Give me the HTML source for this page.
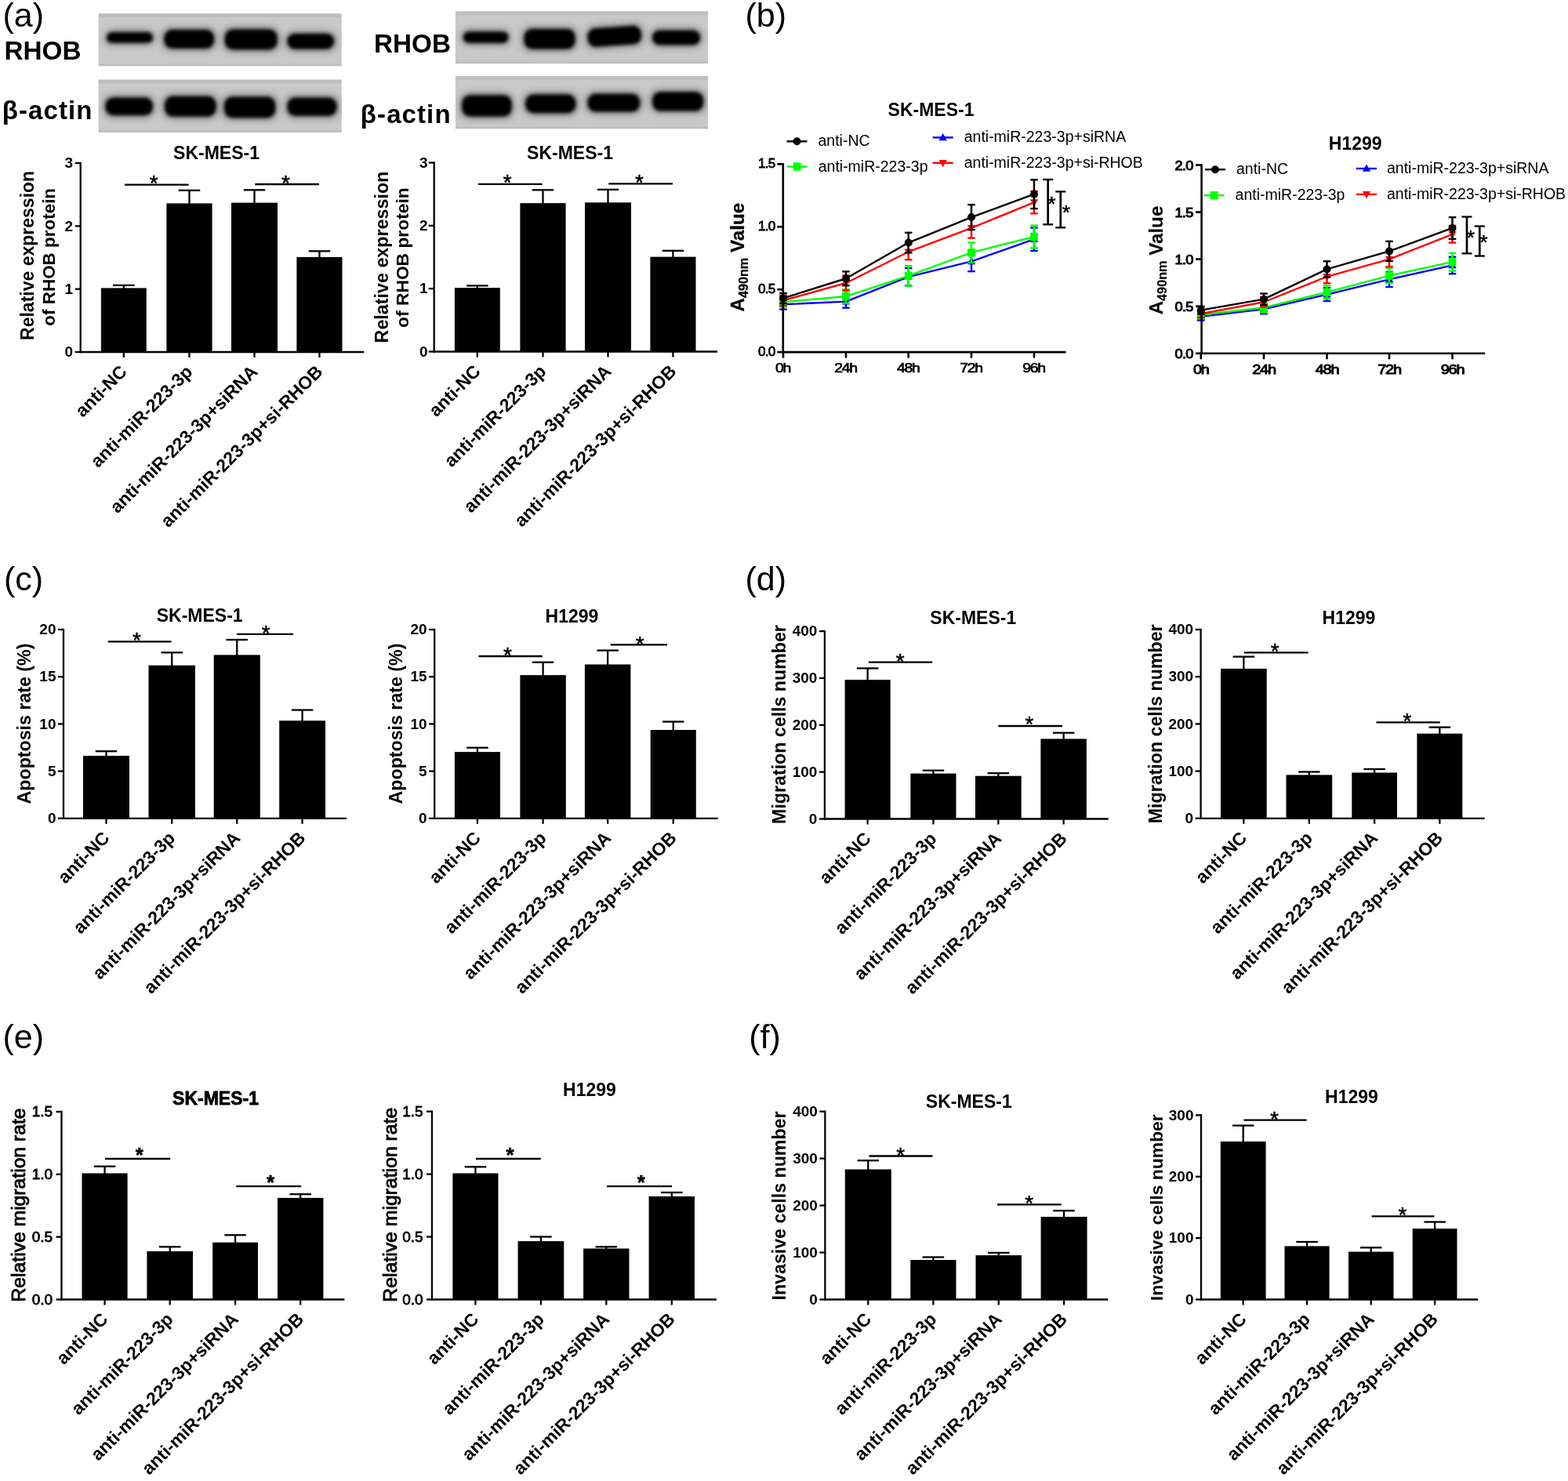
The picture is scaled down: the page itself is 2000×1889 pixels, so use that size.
<!DOCTYPE html>
<html lang="en"><head><meta charset="utf-8"><title>Figure</title>
<style>html,body{margin:0;padding:0;background:#fff}svg{display:block}text{font-family:'Liberation Sans', Arial, Helvetica, sans-serif;fill:#000}</style>
</head><body>
<svg xmlns="http://www.w3.org/2000/svg" width="2000" height="1889" viewBox="0 0 2000 1889">
<rect x="0" y="0" width="2000" height="1889" fill="#fff"/>
<defs><filter id="bl" x="-20%" y="-50%" width="140%" height="200%"><feGaussianBlur stdDeviation="2"/></filter><filter id="bl3" x="-20%" y="-50%" width="140%" height="200%"><feGaussianBlur stdDeviation="5"/></filter><filter id="bl2" x="-5%" y="-5%" width="110%" height="110%"><feGaussianBlur stdDeviation="0.6"/></filter></defs>
<text x="3.5" y="34.1" font-size="43" font-weight="normal" text-anchor="start">(a)</text>
<text x="950.5" y="33.9" font-size="43" font-weight="normal" text-anchor="start">(b)</text>
<text x="5" y="753.2" font-size="43" font-weight="normal" text-anchor="start">(c)</text>
<text x="950.5" y="753.3" font-size="43" font-weight="normal" text-anchor="start">(d)</text>
<text x="3.5" y="1336.6" font-size="43" font-weight="normal" text-anchor="start">(e)</text>
<text x="955.3" y="1336.6" font-size="43" font-weight="normal" text-anchor="start">(f)</text>
<g><rect x="125.6" y="17.2" width="310.2" height="67.2" fill="#c9c9c9" filter="url(#bl2)"/>
<clipPath id="cp125_17"><rect x="125.6" y="17.2" width="310.2" height="67.2"/></clipPath>
<g clip-path="url(#cp125_17)">
<rect x="125.6" y="17.2" width="310.2" height="5" fill="#000" opacity="0.05"/>
<rect x="125.6" y="81.4" width="310.2" height="3" fill="#000" opacity="0.05"/>
<g filter="url(#bl3)" opacity="0.4">
<rect x="133.6" y="38.7" width="63.8" height="18.4" rx="9.2" fill="#000"/>
<rect x="206.9" y="35.5" width="68.6" height="28.8" rx="10.5" fill="#000"/>
<rect x="284.3" y="34.9" width="71.8" height="30.8" rx="10.5" fill="#000"/>
<rect x="364" y="40.5" width="64.7" height="24.4" rx="10.5" fill="#000"/>
</g>
<g filter="url(#bl)" opacity="1">
<rect x="136.1" y="41.2" width="58.8" height="13.4" rx="6.7" fill="#000"/>
<rect x="209.4" y="38" width="63.6" height="23.8" rx="10.5" fill="#000"/>
<rect x="286.8" y="37.4" width="66.8" height="25.8" rx="10.5" fill="#000"/>
<rect x="366.5" y="43" width="59.7" height="19.4" rx="9.7" fill="#000"/>
</g>
</g></g>
<g><rect x="125.6" y="101.5" width="310.2" height="67.5" fill="#c9c9c9" filter="url(#bl2)"/>
<clipPath id="cp125_101"><rect x="125.6" y="101.5" width="310.2" height="67.5"/></clipPath>
<g clip-path="url(#cp125_101)">
<rect x="125.6" y="101.5" width="310.2" height="5" fill="#000" opacity="0.05"/>
<rect x="125.6" y="166" width="310.2" height="3" fill="#000" opacity="0.05"/>
<g filter="url(#bl3)" opacity="0.4">
<rect x="132" y="121.9" width="65.4" height="27.6" rx="10.5" fill="#000"/>
<rect x="207.7" y="120.3" width="70.3" height="30.8" rx="10.5" fill="#000"/>
<rect x="283.5" y="121.1" width="70.2" height="31.6" rx="10.5" fill="#000"/>
<rect x="364" y="121.9" width="67.9" height="28.4" rx="10.5" fill="#000"/>
</g>
<g filter="url(#bl)" opacity="1">
<rect x="134.5" y="124.4" width="60.4" height="22.6" rx="10.5" fill="#000"/>
<rect x="210.2" y="122.8" width="65.3" height="25.8" rx="10.5" fill="#000"/>
<rect x="286" y="123.6" width="65.2" height="26.6" rx="10.5" fill="#000"/>
<rect x="366.5" y="124.4" width="62.9" height="23.4" rx="10.5" fill="#000"/>
</g>
</g></g>
<g><rect x="580.9" y="14.3" width="322.2" height="66.9" fill="#c9c9c9" filter="url(#bl2)"/>
<clipPath id="cp580_14"><rect x="580.9" y="14.3" width="322.2" height="66.9"/></clipPath>
<g clip-path="url(#cp580_14)">
<rect x="580.9" y="14.3" width="322.2" height="5" fill="#000" opacity="0.05"/>
<rect x="580.9" y="78.2" width="322.2" height="3" fill="#000" opacity="0.05"/>
<g filter="url(#bl3)" opacity="0.4">
<rect x="588.5" y="37.9" width="62.4" height="19.4" rx="9.7" fill="#000"/>
<rect x="666.1" y="34.5" width="70" height="30.4" rx="10.5" fill="#000"/>
<rect x="747.1" y="32" width="73.3" height="28.5" rx="10.5" fill="#000" transform="rotate(-4 783.75 46.25)"/>
<rect x="829.7" y="36.2" width="65.8" height="23.6" rx="10.5" fill="#000"/>
</g>
<g filter="url(#bl)" opacity="1">
<rect x="591" y="40.4" width="57.4" height="14.4" rx="7.2" fill="#000"/>
<rect x="668.6" y="37" width="65" height="25.4" rx="10.5" fill="#000"/>
<rect x="749.6" y="34.5" width="68.3" height="23.5" rx="10.5" fill="#000" transform="rotate(-4 783.75 46.25)"/>
<rect x="832.2" y="38.7" width="60.8" height="18.6" rx="9.3" fill="#000"/>
</g>
</g></g>
<g><rect x="580.9" y="96.9" width="322.2" height="67.5" fill="#c9c9c9" filter="url(#bl2)"/>
<clipPath id="cp580_96"><rect x="580.9" y="96.9" width="322.2" height="67.5"/></clipPath>
<g clip-path="url(#cp580_96)">
<rect x="580.9" y="96.9" width="322.2" height="5" fill="#000" opacity="0.05"/>
<rect x="580.9" y="161.4" width="322.2" height="3" fill="#000" opacity="0.05"/>
<g filter="url(#bl3)" opacity="0.4">
<rect x="586.8" y="118.9" width="68.3" height="32" rx="10.5" fill="#000"/>
<rect x="667.8" y="118.1" width="69.1" height="28.6" rx="10.5" fill="#000"/>
<rect x="747.1" y="117.2" width="71.6" height="27.8" rx="10.5" fill="#000"/>
<rect x="829.7" y="114.7" width="70" height="29.4" rx="10.5" fill="#000"/>
</g>
<g filter="url(#bl)" opacity="1">
<rect x="589.3" y="121.4" width="63.3" height="27" rx="10.5" fill="#000"/>
<rect x="670.3" y="120.6" width="64.1" height="23.6" rx="10.5" fill="#000"/>
<rect x="749.6" y="119.7" width="66.6" height="22.8" rx="10.5" fill="#000"/>
<rect x="832.2" y="117.2" width="65" height="24.4" rx="10.5" fill="#000"/>
</g>
</g></g>
<text x="5.5" y="76.1" font-size="33.3" font-weight="bold" text-anchor="start">RHOB</text>
<text x="2.7" y="151.5" font-size="33" font-weight="bold" text-anchor="start" letter-spacing="1.1">β-actin</text>
<text x="476.9" y="66.8" font-size="33.3" font-weight="bold" text-anchor="start">RHOB</text>
<text x="459.8" y="156.9" font-size="33" font-weight="bold" text-anchor="start" letter-spacing="1.1">β-actin</text>
<g>
<line x1="157.85" y1="363.9" x2="157.85" y2="368.4" stroke="#000" stroke-width="2.3" stroke-linecap="butt"/>
<line x1="144.1" y1="363.9" x2="171.6" y2="363.9" stroke="#000" stroke-width="2.3" stroke-linecap="butt"/>
<rect x="128.9" y="367.4" width="57.9" height="81.6" fill="#000"/>
<line x1="241.5" y1="242.8" x2="241.5" y2="260.4" stroke="#000" stroke-width="2.3" stroke-linecap="butt"/>
<line x1="227.75" y1="242.8" x2="255.25" y2="242.8" stroke="#000" stroke-width="2.3" stroke-linecap="butt"/>
<rect x="212.4" y="259.4" width="58.2" height="189.6" fill="#000"/>
<line x1="324.5" y1="242.3" x2="324.5" y2="259.6" stroke="#000" stroke-width="2.3" stroke-linecap="butt"/>
<line x1="310.75" y1="242.3" x2="338.25" y2="242.3" stroke="#000" stroke-width="2.3" stroke-linecap="butt"/>
<rect x="295" y="258.6" width="59" height="190.4" fill="#000"/>
<line x1="407.45" y1="320.3" x2="407.45" y2="328.9" stroke="#000" stroke-width="2.3" stroke-linecap="butt"/>
<line x1="393.7" y1="320.3" x2="421.2" y2="320.3" stroke="#000" stroke-width="2.3" stroke-linecap="butt"/>
<rect x="378.4" y="327.9" width="58.1" height="121.1" fill="#000"/>
<line x1="102.7" y1="206.85" x2="102.7" y2="450.15" stroke="#000" stroke-width="2.3" stroke-linecap="butt"/>
<line x1="101.55" y1="449" x2="464" y2="449" stroke="#000" stroke-width="2.3" stroke-linecap="butt"/>
<line x1="95.7" y1="449" x2="102.7" y2="449" stroke="#000" stroke-width="2.3" stroke-linecap="butt"/>
<text x="93.2" y="455.2" font-size="19" font-weight="bold" text-anchor="end">0</text>
<line x1="95.7" y1="368.67" x2="102.7" y2="368.67" stroke="#000" stroke-width="2.3" stroke-linecap="butt"/>
<text x="93.2" y="374.87" font-size="19" font-weight="bold" text-anchor="end">1</text>
<line x1="95.7" y1="288.33" x2="102.7" y2="288.33" stroke="#000" stroke-width="2.3" stroke-linecap="butt"/>
<text x="93.2" y="294.53" font-size="19" font-weight="bold" text-anchor="end">2</text>
<line x1="95.7" y1="208" x2="102.7" y2="208" stroke="#000" stroke-width="2.3" stroke-linecap="butt"/>
<text x="93.2" y="214.2" font-size="19" font-weight="bold" text-anchor="end">3</text>
<line x1="157.85" y1="449" x2="157.85" y2="456" stroke="#000" stroke-width="2.3" stroke-linecap="butt"/>
<text x="163.35" y="475.5" font-size="23" font-weight="bold" text-anchor="end" transform="rotate(-45 163.35 475.5)">anti-NC</text>
<line x1="241.5" y1="449" x2="241.5" y2="456" stroke="#000" stroke-width="2.3" stroke-linecap="butt"/>
<text x="247" y="475.5" font-size="23" font-weight="bold" text-anchor="end" transform="rotate(-45 247 475.5)">anti-miR-223-3p</text>
<line x1="324.5" y1="449" x2="324.5" y2="456" stroke="#000" stroke-width="2.3" stroke-linecap="butt"/>
<text x="330" y="475.5" font-size="23" font-weight="bold" text-anchor="end" transform="rotate(-45 330 475.5)">anti-miR-223-3p+siRNA</text>
<line x1="407.45" y1="449" x2="407.45" y2="456" stroke="#000" stroke-width="2.3" stroke-linecap="butt"/>
<text x="412.95" y="475.5" font-size="23" font-weight="bold" text-anchor="end" transform="rotate(-45 412.95 475.5)">anti-miR-223-3p+si-RHOB</text>
<line x1="159" y1="235.6" x2="240.7" y2="235.6" stroke="#000" stroke-width="2.3" stroke-linecap="butt"/>
<text x="196.25" y="243.1" font-size="28" font-weight="normal" text-anchor="middle" stroke="#000" stroke-width="0.5">*</text>
<line x1="325.3" y1="235" x2="407" y2="235" stroke="#000" stroke-width="2.3" stroke-linecap="butt"/>
<text x="364.45" y="242.5" font-size="28" font-weight="normal" text-anchor="middle" stroke="#000" stroke-width="0.5">*</text>
<text x="276" y="203" font-size="23" font-weight="bold" text-anchor="middle">SK-MES-1</text>
<text x="43.5" y="325.9" font-size="23" font-weight="bold" text-anchor="middle" transform="rotate(-90 43.5 325.9)">Relative expression</text>
<text x="70.4" y="327.8" font-size="22.45" font-weight="bold" text-anchor="middle" transform="rotate(-90 70.4 327.8)">of RHOB protein</text>
</g>
<g>
<line x1="608.85" y1="364.4" x2="608.85" y2="368.1" stroke="#000" stroke-width="2.3" stroke-linecap="butt"/>
<line x1="595.1" y1="364.4" x2="622.6" y2="364.4" stroke="#000" stroke-width="2.3" stroke-linecap="butt"/>
<rect x="579.9" y="367.1" width="57.9" height="81.4" fill="#000"/>
<line x1="692.5" y1="242.3" x2="692.5" y2="260.1" stroke="#000" stroke-width="2.3" stroke-linecap="butt"/>
<line x1="678.75" y1="242.3" x2="706.25" y2="242.3" stroke="#000" stroke-width="2.3" stroke-linecap="butt"/>
<rect x="663.4" y="259.1" width="58.2" height="189.4" fill="#000"/>
<line x1="775.5" y1="241.8" x2="775.5" y2="259.3" stroke="#000" stroke-width="2.3" stroke-linecap="butt"/>
<line x1="761.75" y1="241.8" x2="789.25" y2="241.8" stroke="#000" stroke-width="2.3" stroke-linecap="butt"/>
<rect x="746" y="258.3" width="59" height="190.2" fill="#000"/>
<line x1="858.45" y1="319.8" x2="858.45" y2="328.6" stroke="#000" stroke-width="2.3" stroke-linecap="butt"/>
<line x1="844.7" y1="319.8" x2="872.2" y2="319.8" stroke="#000" stroke-width="2.3" stroke-linecap="butt"/>
<rect x="829.4" y="327.6" width="58.1" height="120.9" fill="#000"/>
<line x1="553.7" y1="206.35" x2="553.7" y2="449.65" stroke="#000" stroke-width="2.3" stroke-linecap="butt"/>
<line x1="552.55" y1="448.5" x2="915" y2="448.5" stroke="#000" stroke-width="2.3" stroke-linecap="butt"/>
<line x1="546.7" y1="448.5" x2="553.7" y2="448.5" stroke="#000" stroke-width="2.3" stroke-linecap="butt"/>
<text x="545.5" y="454.7" font-size="19" font-weight="bold" text-anchor="end">0</text>
<line x1="546.7" y1="368.17" x2="553.7" y2="368.17" stroke="#000" stroke-width="2.3" stroke-linecap="butt"/>
<text x="545.5" y="374.37" font-size="19" font-weight="bold" text-anchor="end">1</text>
<line x1="546.7" y1="287.83" x2="553.7" y2="287.83" stroke="#000" stroke-width="2.3" stroke-linecap="butt"/>
<text x="545.5" y="294.03" font-size="19" font-weight="bold" text-anchor="end">2</text>
<line x1="546.7" y1="207.5" x2="553.7" y2="207.5" stroke="#000" stroke-width="2.3" stroke-linecap="butt"/>
<text x="545.5" y="213.7" font-size="19" font-weight="bold" text-anchor="end">3</text>
<line x1="608.85" y1="448.5" x2="608.85" y2="455.5" stroke="#000" stroke-width="2.3" stroke-linecap="butt"/>
<text x="614.35" y="475" font-size="23" font-weight="bold" text-anchor="end" transform="rotate(-45 614.35 475)">anti-NC</text>
<line x1="692.5" y1="448.5" x2="692.5" y2="455.5" stroke="#000" stroke-width="2.3" stroke-linecap="butt"/>
<text x="698" y="475" font-size="23" font-weight="bold" text-anchor="end" transform="rotate(-45 698 475)">anti-miR-223-3p</text>
<line x1="775.5" y1="448.5" x2="775.5" y2="455.5" stroke="#000" stroke-width="2.3" stroke-linecap="butt"/>
<text x="781" y="475" font-size="23" font-weight="bold" text-anchor="end" transform="rotate(-45 781 475)">anti-miR-223-3p+siRNA</text>
<line x1="858.45" y1="448.5" x2="858.45" y2="455.5" stroke="#000" stroke-width="2.3" stroke-linecap="butt"/>
<text x="863.95" y="475" font-size="23" font-weight="bold" text-anchor="end" transform="rotate(-45 863.95 475)">anti-miR-223-3p+si-RHOB</text>
<line x1="610" y1="234.9" x2="691.7" y2="234.9" stroke="#000" stroke-width="2.3" stroke-linecap="butt"/>
<text x="647.25" y="242.4" font-size="28" font-weight="normal" text-anchor="middle" stroke="#000" stroke-width="0.5">*</text>
<line x1="776.3" y1="234.3" x2="858" y2="234.3" stroke="#000" stroke-width="2.3" stroke-linecap="butt"/>
<text x="815.45" y="241.8" font-size="28" font-weight="normal" text-anchor="middle" stroke="#000" stroke-width="0.5">*</text>
<text x="727" y="202.5" font-size="23" font-weight="bold" text-anchor="middle">SK-MES-1</text>
<text x="495" y="328" font-size="23.3" font-weight="bold" text-anchor="middle" transform="rotate(-90 495 328)">Relative expression</text>
<text x="521.2" y="328.6" font-size="22.8" font-weight="bold" text-anchor="middle" transform="rotate(-90 521.2 328.6)">of RHOB protein</text>
</g>
<g>
<line x1="135.5" y1="958.2" x2="135.5" y2="965" stroke="#000" stroke-width="2.3" stroke-linecap="butt"/>
<line x1="121.75" y1="958.2" x2="149.25" y2="958.2" stroke="#000" stroke-width="2.3" stroke-linecap="butt"/>
<rect x="106" y="964" width="59" height="79.8" fill="#000"/>
<line x1="219.25" y1="832.3" x2="219.25" y2="849.7" stroke="#000" stroke-width="2.3" stroke-linecap="butt"/>
<line x1="205.5" y1="832.3" x2="233" y2="832.3" stroke="#000" stroke-width="2.3" stroke-linecap="butt"/>
<rect x="189.5" y="848.7" width="59.5" height="195.1" fill="#000"/>
<line x1="302.25" y1="816" x2="302.25" y2="836.4" stroke="#000" stroke-width="2.3" stroke-linecap="butt"/>
<line x1="288.5" y1="816" x2="316" y2="816" stroke="#000" stroke-width="2.3" stroke-linecap="butt"/>
<rect x="272.7" y="835.4" width="59.1" height="208.4" fill="#000"/>
<line x1="385.6" y1="905.6" x2="385.6" y2="920.2" stroke="#000" stroke-width="2.3" stroke-linecap="butt"/>
<line x1="371.85" y1="905.6" x2="399.35" y2="905.6" stroke="#000" stroke-width="2.3" stroke-linecap="butt"/>
<rect x="356.2" y="919.2" width="58.8" height="124.6" fill="#000"/>
<line x1="81" y1="801.85" x2="81" y2="1044.95" stroke="#000" stroke-width="2.3" stroke-linecap="butt"/>
<line x1="79.85" y1="1043.8" x2="442" y2="1043.8" stroke="#000" stroke-width="2.3" stroke-linecap="butt"/>
<line x1="74" y1="1043.8" x2="81" y2="1043.8" stroke="#000" stroke-width="2.3" stroke-linecap="butt"/>
<text x="71.5" y="1050" font-size="19" font-weight="bold" text-anchor="end">0</text>
<line x1="74" y1="983.6" x2="81" y2="983.6" stroke="#000" stroke-width="2.3" stroke-linecap="butt"/>
<text x="71.5" y="989.8" font-size="19" font-weight="bold" text-anchor="end">5</text>
<line x1="74" y1="923.4" x2="81" y2="923.4" stroke="#000" stroke-width="2.3" stroke-linecap="butt"/>
<text x="71.5" y="929.6" font-size="19" font-weight="bold" text-anchor="end">10</text>
<line x1="74" y1="863.2" x2="81" y2="863.2" stroke="#000" stroke-width="2.3" stroke-linecap="butt"/>
<text x="71.5" y="869.4" font-size="19" font-weight="bold" text-anchor="end">15</text>
<line x1="74" y1="803" x2="81" y2="803" stroke="#000" stroke-width="2.3" stroke-linecap="butt"/>
<text x="71.5" y="809.2" font-size="19" font-weight="bold" text-anchor="end">20</text>
<line x1="135.5" y1="1043.8" x2="135.5" y2="1050.8" stroke="#000" stroke-width="2.3" stroke-linecap="butt"/>
<text x="141" y="1070.3" font-size="23" font-weight="bold" text-anchor="end" transform="rotate(-45 141 1070.3)">anti-NC</text>
<line x1="219.25" y1="1043.8" x2="219.25" y2="1050.8" stroke="#000" stroke-width="2.3" stroke-linecap="butt"/>
<text x="224.75" y="1070.3" font-size="23" font-weight="bold" text-anchor="end" transform="rotate(-45 224.75 1070.3)">anti-miR-223-3p</text>
<line x1="302.25" y1="1043.8" x2="302.25" y2="1050.8" stroke="#000" stroke-width="2.3" stroke-linecap="butt"/>
<text x="307.75" y="1070.3" font-size="23" font-weight="bold" text-anchor="end" transform="rotate(-45 307.75 1070.3)">anti-miR-223-3p+siRNA</text>
<line x1="385.6" y1="1043.8" x2="385.6" y2="1050.8" stroke="#000" stroke-width="2.3" stroke-linecap="butt"/>
<text x="391.1" y="1070.3" font-size="23" font-weight="bold" text-anchor="end" transform="rotate(-45 391.1 1070.3)">anti-miR-223-3p+si-RHOB</text>
<line x1="137.6" y1="818.4" x2="218.6" y2="818.4" stroke="#000" stroke-width="2.3" stroke-linecap="butt"/>
<text x="174.5" y="825.9" font-size="28" font-weight="normal" text-anchor="middle" stroke="#000" stroke-width="0.5">*</text>
<line x1="302" y1="808.8" x2="374" y2="808.8" stroke="#000" stroke-width="2.3" stroke-linecap="butt"/>
<text x="339.3" y="817.3" font-size="28" font-weight="normal" text-anchor="middle" stroke="#000" stroke-width="0.5">*</text>
<text x="254.7" y="793" font-size="23" font-weight="bold" text-anchor="middle">SK-MES-1</text>
<text x="39" y="923" font-size="23.2" font-weight="bold" text-anchor="middle" transform="rotate(-90 39 923)">Apoptosis rate (%)</text>
</g>
<g>
<line x1="608.95" y1="953.7" x2="608.95" y2="960.1" stroke="#000" stroke-width="2.3" stroke-linecap="butt"/>
<line x1="595.2" y1="953.7" x2="622.7" y2="953.7" stroke="#000" stroke-width="2.3" stroke-linecap="butt"/>
<rect x="579.9" y="959.1" width="58.1" height="84.7" fill="#000"/>
<line x1="692.6" y1="844.7" x2="692.6" y2="862.1" stroke="#000" stroke-width="2.3" stroke-linecap="butt"/>
<line x1="678.85" y1="844.7" x2="706.35" y2="844.7" stroke="#000" stroke-width="2.3" stroke-linecap="butt"/>
<rect x="663.4" y="861.1" width="58.4" height="182.7" fill="#000"/>
<line x1="775.15" y1="829.6" x2="775.15" y2="848.5" stroke="#000" stroke-width="2.3" stroke-linecap="butt"/>
<line x1="761.4" y1="829.6" x2="788.9" y2="829.6" stroke="#000" stroke-width="2.3" stroke-linecap="butt"/>
<rect x="745.9" y="847.5" width="58.5" height="196.3" fill="#000"/>
<line x1="858.75" y1="920.5" x2="858.75" y2="932" stroke="#000" stroke-width="2.3" stroke-linecap="butt"/>
<line x1="845" y1="920.5" x2="872.5" y2="920.5" stroke="#000" stroke-width="2.3" stroke-linecap="butt"/>
<rect x="829.7" y="931" width="58.1" height="112.8" fill="#000"/>
<line x1="554.2" y1="801.85" x2="554.2" y2="1044.95" stroke="#000" stroke-width="2.3" stroke-linecap="butt"/>
<line x1="553.05" y1="1043.8" x2="915.7" y2="1043.8" stroke="#000" stroke-width="2.3" stroke-linecap="butt"/>
<line x1="547.2" y1="1043.8" x2="554.2" y2="1043.8" stroke="#000" stroke-width="2.3" stroke-linecap="butt"/>
<text x="544.7" y="1050" font-size="19" font-weight="bold" text-anchor="end">0</text>
<line x1="547.2" y1="983.6" x2="554.2" y2="983.6" stroke="#000" stroke-width="2.3" stroke-linecap="butt"/>
<text x="544.7" y="989.8" font-size="19" font-weight="bold" text-anchor="end">5</text>
<line x1="547.2" y1="923.4" x2="554.2" y2="923.4" stroke="#000" stroke-width="2.3" stroke-linecap="butt"/>
<text x="544.7" y="929.6" font-size="19" font-weight="bold" text-anchor="end">10</text>
<line x1="547.2" y1="863.2" x2="554.2" y2="863.2" stroke="#000" stroke-width="2.3" stroke-linecap="butt"/>
<text x="544.7" y="869.4" font-size="19" font-weight="bold" text-anchor="end">15</text>
<line x1="547.2" y1="803" x2="554.2" y2="803" stroke="#000" stroke-width="2.3" stroke-linecap="butt"/>
<text x="544.7" y="809.2" font-size="19" font-weight="bold" text-anchor="end">20</text>
<line x1="608.95" y1="1043.8" x2="608.95" y2="1050.8" stroke="#000" stroke-width="2.3" stroke-linecap="butt"/>
<text x="614.45" y="1070.3" font-size="23" font-weight="bold" text-anchor="end" transform="rotate(-45 614.45 1070.3)">anti-NC</text>
<line x1="692.6" y1="1043.8" x2="692.6" y2="1050.8" stroke="#000" stroke-width="2.3" stroke-linecap="butt"/>
<text x="698.1" y="1070.3" font-size="23" font-weight="bold" text-anchor="end" transform="rotate(-45 698.1 1070.3)">anti-miR-223-3p</text>
<line x1="775.15" y1="1043.8" x2="775.15" y2="1050.8" stroke="#000" stroke-width="2.3" stroke-linecap="butt"/>
<text x="780.65" y="1070.3" font-size="23" font-weight="bold" text-anchor="end" transform="rotate(-45 780.65 1070.3)">anti-miR-223-3p+siRNA</text>
<line x1="858.75" y1="1043.8" x2="858.75" y2="1050.8" stroke="#000" stroke-width="2.3" stroke-linecap="butt"/>
<text x="864.25" y="1070.3" font-size="23" font-weight="bold" text-anchor="end" transform="rotate(-45 864.25 1070.3)">anti-miR-223-3p+si-RHOB</text>
<line x1="610.5" y1="837" x2="691.8" y2="837" stroke="#000" stroke-width="2.3" stroke-linecap="butt"/>
<text x="647.55" y="844.5" font-size="28" font-weight="normal" text-anchor="middle" stroke="#000" stroke-width="0.5">*</text>
<line x1="778.7" y1="822.4" x2="851" y2="822.4" stroke="#000" stroke-width="2.3" stroke-linecap="butt"/>
<text x="816.15" y="830.9" font-size="28" font-weight="normal" text-anchor="middle" stroke="#000" stroke-width="0.5">*</text>
<text x="729.5" y="794.3" font-size="23" font-weight="bold" text-anchor="middle">H1299</text>
<text x="513.2" y="923" font-size="23.2" font-weight="bold" text-anchor="middle" transform="rotate(-90 513.2 923)">Apoptosis rate (%)</text>
</g>
<g>
<line x1="1106.65" y1="852.4" x2="1106.65" y2="868" stroke="#000" stroke-width="2.3" stroke-linecap="butt"/>
<line x1="1092.9" y1="852.4" x2="1120.4" y2="852.4" stroke="#000" stroke-width="2.3" stroke-linecap="butt"/>
<rect x="1077.6" y="867" width="58.1" height="177.5" fill="#000"/>
<line x1="1190.45" y1="982.7" x2="1190.45" y2="987.6" stroke="#000" stroke-width="2.3" stroke-linecap="butt"/>
<line x1="1176.7" y1="982.7" x2="1204.2" y2="982.7" stroke="#000" stroke-width="2.3" stroke-linecap="butt"/>
<rect x="1161.4" y="986.6" width="58.1" height="57.9" fill="#000"/>
<line x1="1273.35" y1="986.2" x2="1273.35" y2="990.7" stroke="#000" stroke-width="2.3" stroke-linecap="butt"/>
<line x1="1259.6" y1="986.2" x2="1287.1" y2="986.2" stroke="#000" stroke-width="2.3" stroke-linecap="butt"/>
<rect x="1244" y="989.7" width="58.7" height="54.8" fill="#000"/>
<line x1="1356.65" y1="934.7" x2="1356.65" y2="943.4" stroke="#000" stroke-width="2.3" stroke-linecap="butt"/>
<line x1="1342.9" y1="934.7" x2="1370.4" y2="934.7" stroke="#000" stroke-width="2.3" stroke-linecap="butt"/>
<rect x="1327.4" y="942.4" width="58.5" height="102.1" fill="#000"/>
<line x1="1051.9" y1="803.95" x2="1051.9" y2="1045.65" stroke="#000" stroke-width="2.3" stroke-linecap="butt"/>
<line x1="1050.75" y1="1044.5" x2="1413.7" y2="1044.5" stroke="#000" stroke-width="2.3" stroke-linecap="butt"/>
<line x1="1044.9" y1="1044.5" x2="1051.9" y2="1044.5" stroke="#000" stroke-width="2.3" stroke-linecap="butt"/>
<text x="1042.4" y="1050.7" font-size="19" font-weight="bold" text-anchor="end">0</text>
<line x1="1044.9" y1="984.65" x2="1051.9" y2="984.65" stroke="#000" stroke-width="2.3" stroke-linecap="butt"/>
<text x="1042.4" y="990.85" font-size="19" font-weight="bold" text-anchor="end">100</text>
<line x1="1044.9" y1="924.8" x2="1051.9" y2="924.8" stroke="#000" stroke-width="2.3" stroke-linecap="butt"/>
<text x="1042.4" y="931" font-size="19" font-weight="bold" text-anchor="end">200</text>
<line x1="1044.9" y1="864.95" x2="1051.9" y2="864.95" stroke="#000" stroke-width="2.3" stroke-linecap="butt"/>
<text x="1042.4" y="871.15" font-size="19" font-weight="bold" text-anchor="end">300</text>
<line x1="1044.9" y1="805.1" x2="1051.9" y2="805.1" stroke="#000" stroke-width="2.3" stroke-linecap="butt"/>
<text x="1042.4" y="811.3" font-size="19" font-weight="bold" text-anchor="end">400</text>
<line x1="1106.65" y1="1044.5" x2="1106.65" y2="1051.5" stroke="#000" stroke-width="2.3" stroke-linecap="butt"/>
<text x="1112.15" y="1071" font-size="23" font-weight="bold" text-anchor="end" transform="rotate(-45 1112.15 1071)">anti-NC</text>
<line x1="1190.45" y1="1044.5" x2="1190.45" y2="1051.5" stroke="#000" stroke-width="2.3" stroke-linecap="butt"/>
<text x="1195.95" y="1071" font-size="23" font-weight="bold" text-anchor="end" transform="rotate(-45 1195.95 1071)">anti-miR-223-3p</text>
<line x1="1273.35" y1="1044.5" x2="1273.35" y2="1051.5" stroke="#000" stroke-width="2.3" stroke-linecap="butt"/>
<text x="1278.85" y="1071" font-size="23" font-weight="bold" text-anchor="end" transform="rotate(-45 1278.85 1071)">anti-miR-223-3p+siRNA</text>
<line x1="1356.65" y1="1044.5" x2="1356.65" y2="1051.5" stroke="#000" stroke-width="2.3" stroke-linecap="butt"/>
<text x="1362.15" y="1071" font-size="23" font-weight="bold" text-anchor="end" transform="rotate(-45 1362.15 1071)">anti-miR-223-3p+si-RHOB</text>
<line x1="1107.9" y1="844.7" x2="1189.2" y2="844.7" stroke="#000" stroke-width="2.3" stroke-linecap="butt"/>
<text x="1148.15" y="853.4" font-size="28" font-weight="normal" text-anchor="middle" stroke="#000" stroke-width="0.5">*</text>
<line x1="1273.3" y1="926" x2="1355" y2="926" stroke="#000" stroke-width="2.3" stroke-linecap="butt"/>
<text x="1313.05" y="932.8" font-size="28" font-weight="normal" text-anchor="middle" stroke="#000" stroke-width="0.5">*</text>
<text x="1241.3" y="795.8" font-size="23" font-weight="bold" text-anchor="middle">SK-MES-1</text>
<text x="1001.5" y="924" font-size="23.2" font-weight="bold" text-anchor="middle" transform="rotate(-90 1001.5 924)">Migration cells number</text>
</g>
<g>
<line x1="1586.35" y1="837.6" x2="1586.35" y2="853.9" stroke="#000" stroke-width="2.3" stroke-linecap="butt"/>
<line x1="1572.6" y1="837.6" x2="1600.1" y2="837.6" stroke="#000" stroke-width="2.3" stroke-linecap="butt"/>
<rect x="1557" y="852.9" width="58.7" height="190.9" fill="#000"/>
<line x1="1669.85" y1="984.5" x2="1669.85" y2="989.4" stroke="#000" stroke-width="2.3" stroke-linecap="butt"/>
<line x1="1656.1" y1="984.5" x2="1683.6" y2="984.5" stroke="#000" stroke-width="2.3" stroke-linecap="butt"/>
<rect x="1640.5" y="988.4" width="58.7" height="55.4" fill="#000"/>
<line x1="1753.15" y1="981" x2="1753.15" y2="986.5" stroke="#000" stroke-width="2.3" stroke-linecap="butt"/>
<line x1="1739.4" y1="981" x2="1766.9" y2="981" stroke="#000" stroke-width="2.3" stroke-linecap="butt"/>
<rect x="1724.3" y="985.5" width="57.7" height="58.3" fill="#000"/>
<line x1="1836.35" y1="927.6" x2="1836.35" y2="936.7" stroke="#000" stroke-width="2.3" stroke-linecap="butt"/>
<line x1="1822.6" y1="927.6" x2="1850.1" y2="927.6" stroke="#000" stroke-width="2.3" stroke-linecap="butt"/>
<rect x="1807.4" y="935.7" width="57.9" height="108.1" fill="#000"/>
<line x1="1531.6" y1="801.85" x2="1531.6" y2="1044.95" stroke="#000" stroke-width="2.3" stroke-linecap="butt"/>
<line x1="1530.45" y1="1043.8" x2="1893.7" y2="1043.8" stroke="#000" stroke-width="2.3" stroke-linecap="butt"/>
<line x1="1524.6" y1="1043.8" x2="1531.6" y2="1043.8" stroke="#000" stroke-width="2.3" stroke-linecap="butt"/>
<text x="1522.1" y="1050" font-size="19" font-weight="bold" text-anchor="end">0</text>
<line x1="1524.6" y1="983.6" x2="1531.6" y2="983.6" stroke="#000" stroke-width="2.3" stroke-linecap="butt"/>
<text x="1522.1" y="989.8" font-size="19" font-weight="bold" text-anchor="end">100</text>
<line x1="1524.6" y1="923.4" x2="1531.6" y2="923.4" stroke="#000" stroke-width="2.3" stroke-linecap="butt"/>
<text x="1522.1" y="929.6" font-size="19" font-weight="bold" text-anchor="end">200</text>
<line x1="1524.6" y1="863.2" x2="1531.6" y2="863.2" stroke="#000" stroke-width="2.3" stroke-linecap="butt"/>
<text x="1522.1" y="869.4" font-size="19" font-weight="bold" text-anchor="end">300</text>
<line x1="1524.6" y1="803" x2="1531.6" y2="803" stroke="#000" stroke-width="2.3" stroke-linecap="butt"/>
<text x="1522.1" y="809.2" font-size="19" font-weight="bold" text-anchor="end">400</text>
<line x1="1586.35" y1="1043.8" x2="1586.35" y2="1050.8" stroke="#000" stroke-width="2.3" stroke-linecap="butt"/>
<text x="1591.85" y="1070.3" font-size="23" font-weight="bold" text-anchor="end" transform="rotate(-45 1591.85 1070.3)">anti-NC</text>
<line x1="1669.85" y1="1043.8" x2="1669.85" y2="1050.8" stroke="#000" stroke-width="2.3" stroke-linecap="butt"/>
<text x="1675.35" y="1070.3" font-size="23" font-weight="bold" text-anchor="end" transform="rotate(-45 1675.35 1070.3)">anti-miR-223-3p</text>
<line x1="1753.15" y1="1043.8" x2="1753.15" y2="1050.8" stroke="#000" stroke-width="2.3" stroke-linecap="butt"/>
<text x="1758.65" y="1070.3" font-size="23" font-weight="bold" text-anchor="end" transform="rotate(-45 1758.65 1070.3)">anti-miR-223-3p+siRNA</text>
<line x1="1836.35" y1="1043.8" x2="1836.35" y2="1050.8" stroke="#000" stroke-width="2.3" stroke-linecap="butt"/>
<text x="1841.85" y="1070.3" font-size="23" font-weight="bold" text-anchor="end" transform="rotate(-45 1841.85 1070.3)">anti-miR-223-3p+si-RHOB</text>
<line x1="1587" y1="832.3" x2="1668.6" y2="832.3" stroke="#000" stroke-width="2.3" stroke-linecap="butt"/>
<text x="1626.2" y="839.8" font-size="28" font-weight="normal" text-anchor="middle" stroke="#000" stroke-width="0.5">*</text>
<line x1="1755.5" y1="921.4" x2="1836.8" y2="921.4" stroke="#000" stroke-width="2.3" stroke-linecap="butt"/>
<text x="1795.05" y="928.9" font-size="28" font-weight="normal" text-anchor="middle" stroke="#000" stroke-width="0.5">*</text>
<text x="1720.5" y="795.8" font-size="23" font-weight="bold" text-anchor="middle">H1299</text>
<text x="1481.6" y="923.3" font-size="23.2" font-weight="bold" text-anchor="middle" transform="rotate(-90 1481.6 923.3)">Migration cells number</text>
</g>
<g>
<line x1="133.55" y1="1487.7" x2="133.55" y2="1497.5" stroke="#000" stroke-width="2.3" stroke-linecap="butt"/>
<line x1="119.8" y1="1487.7" x2="147.3" y2="1487.7" stroke="#000" stroke-width="2.3" stroke-linecap="butt"/>
<rect x="104.5" y="1496.5" width="58.1" height="161" fill="#000"/>
<line x1="216.7" y1="1590.3" x2="216.7" y2="1597" stroke="#000" stroke-width="2.3" stroke-linecap="butt"/>
<line x1="202.95" y1="1590.3" x2="230.45" y2="1590.3" stroke="#000" stroke-width="2.3" stroke-linecap="butt"/>
<rect x="187.4" y="1596" width="58.6" height="61.5" fill="#000"/>
<line x1="300.1" y1="1575.3" x2="300.1" y2="1585.7" stroke="#000" stroke-width="2.3" stroke-linecap="butt"/>
<line x1="286.35" y1="1575.3" x2="313.85" y2="1575.3" stroke="#000" stroke-width="2.3" stroke-linecap="butt"/>
<rect x="271.2" y="1584.7" width="57.8" height="72.8" fill="#000"/>
<line x1="383.2" y1="1523.2" x2="383.2" y2="1528.9" stroke="#000" stroke-width="2.3" stroke-linecap="butt"/>
<line x1="369.45" y1="1523.2" x2="396.95" y2="1523.2" stroke="#000" stroke-width="2.3" stroke-linecap="butt"/>
<rect x="354" y="1527.9" width="58.4" height="129.6" fill="#000"/>
<line x1="78.5" y1="1416.85" x2="78.5" y2="1658.65" stroke="#000" stroke-width="2.3" stroke-linecap="butt"/>
<line x1="77.35" y1="1657.5" x2="439.4" y2="1657.5" stroke="#000" stroke-width="2.3" stroke-linecap="butt"/>
<line x1="71.5" y1="1657.5" x2="78.5" y2="1657.5" stroke="#000" stroke-width="2.3" stroke-linecap="butt"/>
<text x="67.1" y="1663.7" font-size="19" font-weight="normal" text-anchor="end" stroke="#000" stroke-width="0.8">0.0</text>
<line x1="71.5" y1="1577.67" x2="78.5" y2="1577.67" stroke="#000" stroke-width="2.3" stroke-linecap="butt"/>
<text x="67.1" y="1583.87" font-size="19" font-weight="normal" text-anchor="end" stroke="#000" stroke-width="0.8">0.5</text>
<line x1="71.5" y1="1497.83" x2="78.5" y2="1497.83" stroke="#000" stroke-width="2.3" stroke-linecap="butt"/>
<text x="67.1" y="1504.03" font-size="19" font-weight="normal" text-anchor="end" stroke="#000" stroke-width="0.8">1.0</text>
<line x1="71.5" y1="1418" x2="78.5" y2="1418" stroke="#000" stroke-width="2.3" stroke-linecap="butt"/>
<text x="67.1" y="1424.2" font-size="19" font-weight="normal" text-anchor="end" stroke="#000" stroke-width="0.8">1.5</text>
<line x1="133.55" y1="1657.5" x2="133.55" y2="1664.5" stroke="#000" stroke-width="2.3" stroke-linecap="butt"/>
<text x="139.05" y="1684" font-size="23" font-weight="bold" text-anchor="end" transform="rotate(-45 139.05 1684)">anti-NC</text>
<line x1="216.7" y1="1657.5" x2="216.7" y2="1664.5" stroke="#000" stroke-width="2.3" stroke-linecap="butt"/>
<text x="222.2" y="1684" font-size="23" font-weight="bold" text-anchor="end" transform="rotate(-45 222.2 1684)">anti-miR-223-3p</text>
<line x1="300.1" y1="1657.5" x2="300.1" y2="1664.5" stroke="#000" stroke-width="2.3" stroke-linecap="butt"/>
<text x="305.6" y="1684" font-size="23" font-weight="bold" text-anchor="end" transform="rotate(-45 305.6 1684)">anti-miR-223-3p+siRNA</text>
<line x1="383.2" y1="1657.5" x2="383.2" y2="1664.5" stroke="#000" stroke-width="2.3" stroke-linecap="butt"/>
<text x="388.7" y="1684" font-size="23" font-weight="bold" text-anchor="end" transform="rotate(-45 388.7 1684)">anti-miR-223-3p+si-RHOB</text>
<line x1="134" y1="1478" x2="217.2" y2="1478" stroke="#000" stroke-width="2.3" stroke-linecap="butt"/>
<text x="177.8" y="1481.6" font-size="26" font-weight="bold" text-anchor="middle" stroke="#000" stroke-width="0.5">*</text>
<line x1="301.3" y1="1513.1" x2="384.2" y2="1513.1" stroke="#000" stroke-width="2.3" stroke-linecap="butt"/>
<text x="344.95" y="1516.7" font-size="26" font-weight="bold" text-anchor="middle" stroke="#000" stroke-width="0.5">*</text>
<text x="275" y="1409" font-size="23" font-weight="bold" text-anchor="middle" stroke="#000" stroke-width="0.8">SK-MES-1</text>
<text x="32.2" y="1537" font-size="24.7" font-weight="normal" text-anchor="middle" transform="rotate(-90 32.2 1537)" stroke="#000" stroke-width="0.9">Relative migration rate</text>
</g>
<g>
<line x1="606.45" y1="1488.3" x2="606.45" y2="1497.5" stroke="#000" stroke-width="2.3" stroke-linecap="butt"/>
<line x1="592.7" y1="1488.3" x2="620.2" y2="1488.3" stroke="#000" stroke-width="2.3" stroke-linecap="butt"/>
<rect x="577.4" y="1496.5" width="58.1" height="161" fill="#000"/>
<line x1="689.95" y1="1577.5" x2="689.95" y2="1584.1" stroke="#000" stroke-width="2.3" stroke-linecap="butt"/>
<line x1="676.2" y1="1577.5" x2="703.7" y2="1577.5" stroke="#000" stroke-width="2.3" stroke-linecap="butt"/>
<rect x="660.6" y="1583.1" width="58.7" height="74.4" fill="#000"/>
<line x1="773.3" y1="1590.3" x2="773.3" y2="1593.5" stroke="#000" stroke-width="2.3" stroke-linecap="butt"/>
<line x1="759.55" y1="1590.3" x2="787.05" y2="1590.3" stroke="#000" stroke-width="2.3" stroke-linecap="butt"/>
<rect x="744.1" y="1592.5" width="58.4" height="65" fill="#000"/>
<line x1="856.8" y1="1521" x2="856.8" y2="1527" stroke="#000" stroke-width="2.3" stroke-linecap="butt"/>
<line x1="843.05" y1="1521" x2="870.55" y2="1521" stroke="#000" stroke-width="2.3" stroke-linecap="butt"/>
<rect x="827.6" y="1526" width="58.4" height="131.5" fill="#000"/>
<line x1="551" y1="1416.55" x2="551" y2="1658.65" stroke="#000" stroke-width="2.3" stroke-linecap="butt"/>
<line x1="549.85" y1="1657.5" x2="913.9" y2="1657.5" stroke="#000" stroke-width="2.3" stroke-linecap="butt"/>
<line x1="544" y1="1657.5" x2="551" y2="1657.5" stroke="#000" stroke-width="2.3" stroke-linecap="butt"/>
<text x="539.6" y="1663.7" font-size="19" font-weight="normal" text-anchor="end" stroke="#000" stroke-width="0.8">0.0</text>
<line x1="544" y1="1577.57" x2="551" y2="1577.57" stroke="#000" stroke-width="2.3" stroke-linecap="butt"/>
<text x="539.6" y="1583.77" font-size="19" font-weight="normal" text-anchor="end" stroke="#000" stroke-width="0.8">0.5</text>
<line x1="544" y1="1497.63" x2="551" y2="1497.63" stroke="#000" stroke-width="2.3" stroke-linecap="butt"/>
<text x="539.6" y="1503.83" font-size="19" font-weight="normal" text-anchor="end" stroke="#000" stroke-width="0.8">1.0</text>
<line x1="544" y1="1417.7" x2="551" y2="1417.7" stroke="#000" stroke-width="2.3" stroke-linecap="butt"/>
<text x="539.6" y="1423.9" font-size="19" font-weight="normal" text-anchor="end" stroke="#000" stroke-width="0.8">1.5</text>
<line x1="606.45" y1="1657.5" x2="606.45" y2="1664.5" stroke="#000" stroke-width="2.3" stroke-linecap="butt"/>
<text x="611.95" y="1684" font-size="23" font-weight="bold" text-anchor="end" transform="rotate(-45 611.95 1684)">anti-NC</text>
<line x1="689.95" y1="1657.5" x2="689.95" y2="1664.5" stroke="#000" stroke-width="2.3" stroke-linecap="butt"/>
<text x="695.45" y="1684" font-size="23" font-weight="bold" text-anchor="end" transform="rotate(-45 695.45 1684)">anti-miR-223-3p</text>
<line x1="773.3" y1="1657.5" x2="773.3" y2="1664.5" stroke="#000" stroke-width="2.3" stroke-linecap="butt"/>
<text x="778.8" y="1684" font-size="23" font-weight="bold" text-anchor="end" transform="rotate(-45 778.8 1684)">anti-miR-223-3p+siRNA</text>
<line x1="856.8" y1="1657.5" x2="856.8" y2="1664.5" stroke="#000" stroke-width="2.3" stroke-linecap="butt"/>
<text x="862.3" y="1684" font-size="23" font-weight="bold" text-anchor="end" transform="rotate(-45 862.3 1684)">anti-miR-223-3p+si-RHOB</text>
<line x1="607" y1="1478" x2="689.8" y2="1478" stroke="#000" stroke-width="2.3" stroke-linecap="butt"/>
<text x="650.6" y="1481.6" font-size="26" font-weight="bold" text-anchor="middle" stroke="#000" stroke-width="0.5">*</text>
<line x1="774.2" y1="1513.1" x2="857.1" y2="1513.1" stroke="#000" stroke-width="2.3" stroke-linecap="butt"/>
<text x="817.85" y="1516.7" font-size="26" font-weight="bold" text-anchor="middle" stroke="#000" stroke-width="0.5">*</text>
<text x="752" y="1398" font-size="23" font-weight="bold" text-anchor="middle">H1299</text>
<text x="506.5" y="1536.7" font-size="24.8" font-weight="normal" text-anchor="middle" transform="rotate(-90 506.5 1536.7)" stroke="#000" stroke-width="0.9">Relative migration rate</text>
</g>
<g>
<line x1="1107.3" y1="1480.2" x2="1107.3" y2="1492.5" stroke="#000" stroke-width="2.3" stroke-linecap="butt"/>
<line x1="1093.55" y1="1480.2" x2="1121.05" y2="1480.2" stroke="#000" stroke-width="2.3" stroke-linecap="butt"/>
<rect x="1077.8" y="1491.5" width="59" height="166" fill="#000"/>
<line x1="1190.4" y1="1603.5" x2="1190.4" y2="1608" stroke="#000" stroke-width="2.3" stroke-linecap="butt"/>
<line x1="1176.65" y1="1603.5" x2="1204.15" y2="1603.5" stroke="#000" stroke-width="2.3" stroke-linecap="butt"/>
<rect x="1161.3" y="1607" width="58.2" height="50.5" fill="#000"/>
<line x1="1273.75" y1="1597.9" x2="1273.75" y2="1602.1" stroke="#000" stroke-width="2.3" stroke-linecap="butt"/>
<line x1="1260" y1="1597.9" x2="1287.5" y2="1597.9" stroke="#000" stroke-width="2.3" stroke-linecap="butt"/>
<rect x="1244.5" y="1601.1" width="58.5" height="56.4" fill="#000"/>
<line x1="1357.1" y1="1544.2" x2="1357.1" y2="1553" stroke="#000" stroke-width="2.3" stroke-linecap="butt"/>
<line x1="1343.35" y1="1544.2" x2="1370.85" y2="1544.2" stroke="#000" stroke-width="2.3" stroke-linecap="butt"/>
<rect x="1327.6" y="1552" width="59" height="105.5" fill="#000"/>
<line x1="1052.4" y1="1416.55" x2="1052.4" y2="1658.65" stroke="#000" stroke-width="2.3" stroke-linecap="butt"/>
<line x1="1051.25" y1="1657.5" x2="1413.3" y2="1657.5" stroke="#000" stroke-width="2.3" stroke-linecap="butt"/>
<line x1="1045.4" y1="1657.5" x2="1052.4" y2="1657.5" stroke="#000" stroke-width="2.3" stroke-linecap="butt"/>
<text x="1042.9" y="1663.7" font-size="19" font-weight="bold" text-anchor="end">0</text>
<line x1="1045.4" y1="1597.55" x2="1052.4" y2="1597.55" stroke="#000" stroke-width="2.3" stroke-linecap="butt"/>
<text x="1042.9" y="1603.75" font-size="19" font-weight="bold" text-anchor="end">100</text>
<line x1="1045.4" y1="1537.6" x2="1052.4" y2="1537.6" stroke="#000" stroke-width="2.3" stroke-linecap="butt"/>
<text x="1042.9" y="1543.8" font-size="19" font-weight="bold" text-anchor="end">200</text>
<line x1="1045.4" y1="1477.65" x2="1052.4" y2="1477.65" stroke="#000" stroke-width="2.3" stroke-linecap="butt"/>
<text x="1042.9" y="1483.85" font-size="19" font-weight="bold" text-anchor="end">300</text>
<line x1="1045.4" y1="1417.7" x2="1052.4" y2="1417.7" stroke="#000" stroke-width="2.3" stroke-linecap="butt"/>
<text x="1042.9" y="1423.9" font-size="19" font-weight="bold" text-anchor="end">400</text>
<line x1="1107.3" y1="1657.5" x2="1107.3" y2="1664.5" stroke="#000" stroke-width="2.3" stroke-linecap="butt"/>
<text x="1112.8" y="1684" font-size="23" font-weight="bold" text-anchor="end" transform="rotate(-45 1112.8 1684)">anti-NC</text>
<line x1="1190.4" y1="1657.5" x2="1190.4" y2="1664.5" stroke="#000" stroke-width="2.3" stroke-linecap="butt"/>
<text x="1195.9" y="1684" font-size="23" font-weight="bold" text-anchor="end" transform="rotate(-45 1195.9 1684)">anti-miR-223-3p</text>
<line x1="1273.75" y1="1657.5" x2="1273.75" y2="1664.5" stroke="#000" stroke-width="2.3" stroke-linecap="butt"/>
<text x="1279.25" y="1684" font-size="23" font-weight="bold" text-anchor="end" transform="rotate(-45 1279.25 1684)">anti-miR-223-3p+siRNA</text>
<line x1="1357.1" y1="1657.5" x2="1357.1" y2="1664.5" stroke="#000" stroke-width="2.3" stroke-linecap="butt"/>
<text x="1362.6" y="1684" font-size="23" font-weight="bold" text-anchor="end" transform="rotate(-45 1362.6 1684)">anti-miR-223-3p+si-RHOB</text>
<line x1="1108.5" y1="1474.5" x2="1189.5" y2="1474.5" stroke="#000" stroke-width="2.3" stroke-linecap="butt"/>
<text x="1148.6" y="1483.2" font-size="28" font-weight="normal" text-anchor="middle" stroke="#000" stroke-width="0.5">*</text>
<line x1="1272" y1="1536.3" x2="1353.7" y2="1536.3" stroke="#000" stroke-width="2.3" stroke-linecap="butt"/>
<text x="1312.65" y="1543.8" font-size="28" font-weight="normal" text-anchor="middle" stroke="#000" stroke-width="0.5">*</text>
<text x="1235.8" y="1412.5" font-size="23" font-weight="bold" text-anchor="middle">SK-MES-1</text>
<text x="1002.2" y="1538" font-size="23.2" font-weight="bold" text-anchor="middle" transform="rotate(-90 1002.2 1538)">Invasive cells number</text>
</g>
<g>
<line x1="1585.7" y1="1435.6" x2="1585.7" y2="1457" stroke="#000" stroke-width="2.3" stroke-linecap="butt"/>
<line x1="1571.95" y1="1435.6" x2="1599.45" y2="1435.6" stroke="#000" stroke-width="2.3" stroke-linecap="butt"/>
<rect x="1556.8" y="1456" width="57.8" height="201.5" fill="#000"/>
<line x1="1667.05" y1="1584" x2="1667.05" y2="1590.4" stroke="#000" stroke-width="2.3" stroke-linecap="butt"/>
<line x1="1653.3" y1="1584" x2="1680.8" y2="1584" stroke="#000" stroke-width="2.3" stroke-linecap="butt"/>
<rect x="1638.5" y="1589.4" width="57.1" height="68.1" fill="#000"/>
<line x1="1748.75" y1="1591.3" x2="1748.75" y2="1597.6" stroke="#000" stroke-width="2.3" stroke-linecap="butt"/>
<line x1="1735" y1="1591.3" x2="1762.5" y2="1591.3" stroke="#000" stroke-width="2.3" stroke-linecap="butt"/>
<rect x="1720" y="1596.6" width="57.5" height="60.9" fill="#000"/>
<line x1="1830.1" y1="1558.6" x2="1830.1" y2="1568.1" stroke="#000" stroke-width="2.3" stroke-linecap="butt"/>
<line x1="1816.35" y1="1558.6" x2="1843.85" y2="1558.6" stroke="#000" stroke-width="2.3" stroke-linecap="butt"/>
<rect x="1801.7" y="1567.1" width="56.8" height="90.4" fill="#000"/>
<line x1="1532" y1="1421.25" x2="1532" y2="1658.65" stroke="#000" stroke-width="2.3" stroke-linecap="butt"/>
<line x1="1530.85" y1="1657.5" x2="1885.2" y2="1657.5" stroke="#000" stroke-width="2.3" stroke-linecap="butt"/>
<line x1="1525" y1="1657.5" x2="1532" y2="1657.5" stroke="#000" stroke-width="2.3" stroke-linecap="butt"/>
<text x="1522.5" y="1663.7" font-size="19" font-weight="bold" text-anchor="end">0</text>
<line x1="1525" y1="1579.13" x2="1532" y2="1579.13" stroke="#000" stroke-width="2.3" stroke-linecap="butt"/>
<text x="1522.5" y="1585.33" font-size="19" font-weight="bold" text-anchor="end">100</text>
<line x1="1525" y1="1500.77" x2="1532" y2="1500.77" stroke="#000" stroke-width="2.3" stroke-linecap="butt"/>
<text x="1522.5" y="1506.97" font-size="19" font-weight="bold" text-anchor="end">200</text>
<line x1="1525" y1="1422.4" x2="1532" y2="1422.4" stroke="#000" stroke-width="2.3" stroke-linecap="butt"/>
<text x="1522.5" y="1428.6" font-size="19" font-weight="bold" text-anchor="end">300</text>
<line x1="1585.7" y1="1657.5" x2="1585.7" y2="1664.5" stroke="#000" stroke-width="2.3" stroke-linecap="butt"/>
<text x="1591.2" y="1684" font-size="23" font-weight="bold" text-anchor="end" transform="rotate(-45 1591.2 1684)">anti-NC</text>
<line x1="1667.05" y1="1657.5" x2="1667.05" y2="1664.5" stroke="#000" stroke-width="2.3" stroke-linecap="butt"/>
<text x="1672.55" y="1684" font-size="23" font-weight="bold" text-anchor="end" transform="rotate(-45 1672.55 1684)">anti-miR-223-3p</text>
<line x1="1748.75" y1="1657.5" x2="1748.75" y2="1664.5" stroke="#000" stroke-width="2.3" stroke-linecap="butt"/>
<text x="1754.25" y="1684" font-size="23" font-weight="bold" text-anchor="end" transform="rotate(-45 1754.25 1684)">anti-miR-223-3p+siRNA</text>
<line x1="1830.1" y1="1657.5" x2="1830.1" y2="1664.5" stroke="#000" stroke-width="2.3" stroke-linecap="butt"/>
<text x="1835.6" y="1684" font-size="23" font-weight="bold" text-anchor="end" transform="rotate(-45 1835.6 1684)">anti-miR-223-3p+si-RHOB</text>
<line x1="1586.4" y1="1428.7" x2="1666.7" y2="1428.7" stroke="#000" stroke-width="2.3" stroke-linecap="butt"/>
<text x="1625.45" y="1436.5" font-size="28" font-weight="normal" text-anchor="middle" stroke="#000" stroke-width="0.5">*</text>
<line x1="1749.6" y1="1551.4" x2="1829.6" y2="1551.4" stroke="#000" stroke-width="2.3" stroke-linecap="butt"/>
<text x="1788.9" y="1558.9" font-size="28" font-weight="normal" text-anchor="middle" stroke="#000" stroke-width="0.5">*</text>
<text x="1724" y="1406.6" font-size="23" font-weight="bold" text-anchor="middle">H1299</text>
<text x="1483.4" y="1540.2" font-size="22.9" font-weight="bold" text-anchor="middle" transform="rotate(-90 1483.4 1540.2)">Invasive cells number</text>
</g>
<g>
<line x1="999" y1="381.8" x2="999" y2="394.59" stroke="#0000ff" stroke-width="2.5" stroke-linecap="butt"/>
<line x1="994.2" y1="381.8" x2="1003.8" y2="381.8" stroke="#0000ff" stroke-width="2.3" stroke-linecap="butt"/>
<line x1="994.2" y1="394.59" x2="1003.8" y2="394.59" stroke="#0000ff" stroke-width="2.3" stroke-linecap="butt"/>
<line x1="1079" y1="376.68" x2="1079" y2="392.67" stroke="#0000ff" stroke-width="2.5" stroke-linecap="butt"/>
<line x1="1074.2" y1="376.68" x2="1083.8" y2="376.68" stroke="#0000ff" stroke-width="2.3" stroke-linecap="butt"/>
<line x1="1074.2" y1="392.67" x2="1083.8" y2="392.67" stroke="#0000ff" stroke-width="2.3" stroke-linecap="butt"/>
<line x1="1158.7" y1="341.99" x2="1158.7" y2="364.37" stroke="#0000ff" stroke-width="2.5" stroke-linecap="butt"/>
<line x1="1153.9" y1="341.99" x2="1163.5" y2="341.99" stroke="#0000ff" stroke-width="2.3" stroke-linecap="butt"/>
<line x1="1153.9" y1="364.37" x2="1163.5" y2="364.37" stroke="#0000ff" stroke-width="2.3" stroke-linecap="butt"/>
<line x1="1239" y1="320.57" x2="1239" y2="346.15" stroke="#0000ff" stroke-width="2.5" stroke-linecap="butt"/>
<line x1="1234.2" y1="320.57" x2="1243.8" y2="320.57" stroke="#0000ff" stroke-width="2.3" stroke-linecap="butt"/>
<line x1="1234.2" y1="346.15" x2="1243.8" y2="346.15" stroke="#0000ff" stroke-width="2.3" stroke-linecap="butt"/>
<line x1="1319" y1="290.51" x2="1319" y2="319.93" stroke="#0000ff" stroke-width="2.5" stroke-linecap="butt"/>
<line x1="1314.2" y1="290.51" x2="1323.8" y2="290.51" stroke="#0000ff" stroke-width="2.3" stroke-linecap="butt"/>
<line x1="1314.2" y1="319.93" x2="1323.8" y2="319.93" stroke="#0000ff" stroke-width="2.3" stroke-linecap="butt"/>
<polyline points="999,388.19 1079,384.67 1158.7,353.18 1239,333.36 1319,305.22" fill="none" stroke="#0000ff" stroke-width="2.4" stroke-linejoin="round"/>
<polygon points="999,382.69 1004.2,391.99 993.8,391.99" fill="#0000ff"/>
<polygon points="1079,379.17 1084.2,388.47 1073.8,388.47" fill="#0000ff"/>
<polygon points="1158.7,347.68 1163.9,356.98 1153.5,356.98" fill="#0000ff"/>
<polygon points="1239,327.86 1244.2,337.16 1233.8,337.16" fill="#0000ff"/>
<polygon points="1319,299.72 1324.2,309.02 1313.8,309.02" fill="#0000ff"/>
<line x1="999" y1="378.76" x2="999" y2="391.55" stroke="#00ff00" stroke-width="2.5" stroke-linecap="butt"/>
<line x1="994.2" y1="378.76" x2="1003.8" y2="378.76" stroke="#00ff00" stroke-width="2.3" stroke-linecap="butt"/>
<line x1="994.2" y1="391.55" x2="1003.8" y2="391.55" stroke="#00ff00" stroke-width="2.3" stroke-linecap="butt"/>
<line x1="1079" y1="369.17" x2="1079" y2="386.75" stroke="#00ff00" stroke-width="2.5" stroke-linecap="butt"/>
<line x1="1074.2" y1="369.17" x2="1083.8" y2="369.17" stroke="#00ff00" stroke-width="2.3" stroke-linecap="butt"/>
<line x1="1074.2" y1="386.75" x2="1083.8" y2="386.75" stroke="#00ff00" stroke-width="2.3" stroke-linecap="butt"/>
<line x1="1158.7" y1="339.11" x2="1158.7" y2="364.69" stroke="#00ff00" stroke-width="2.5" stroke-linecap="butt"/>
<line x1="1153.9" y1="339.11" x2="1163.5" y2="339.11" stroke="#00ff00" stroke-width="2.3" stroke-linecap="butt"/>
<line x1="1153.9" y1="364.69" x2="1163.5" y2="364.69" stroke="#00ff00" stroke-width="2.3" stroke-linecap="butt"/>
<line x1="1239" y1="309.38" x2="1239" y2="334.96" stroke="#00ff00" stroke-width="2.5" stroke-linecap="butt"/>
<line x1="1234.2" y1="309.38" x2="1243.8" y2="309.38" stroke="#00ff00" stroke-width="2.3" stroke-linecap="butt"/>
<line x1="1234.2" y1="334.96" x2="1243.8" y2="334.96" stroke="#00ff00" stroke-width="2.3" stroke-linecap="butt"/>
<line x1="1319" y1="287.63" x2="1319" y2="316.41" stroke="#00ff00" stroke-width="2.5" stroke-linecap="butt"/>
<line x1="1314.2" y1="287.63" x2="1323.8" y2="287.63" stroke="#00ff00" stroke-width="2.3" stroke-linecap="butt"/>
<line x1="1314.2" y1="316.41" x2="1323.8" y2="316.41" stroke="#00ff00" stroke-width="2.3" stroke-linecap="butt"/>
<polyline points="999,385.15 1079,377.96 1158.7,351.9 1239,322.17 1319,302.02" fill="none" stroke="#00ff00" stroke-width="2.4" stroke-linejoin="round"/>
<rect x="994.1" y="379.95" width="9.8" height="10.4" fill="#00ff00"/>
<rect x="1074.1" y="372.76" width="9.8" height="10.4" fill="#00ff00"/>
<rect x="1153.8" y="346.7" width="9.8" height="10.4" fill="#00ff00"/>
<rect x="1234.1" y="316.97" width="9.8" height="10.4" fill="#00ff00"/>
<rect x="1314.1" y="296.82" width="9.8" height="10.4" fill="#00ff00"/>
<line x1="999" y1="376.84" x2="999" y2="389.63" stroke="#ff0000" stroke-width="2.5" stroke-linecap="butt"/>
<line x1="994.2" y1="376.84" x2="1003.8" y2="376.84" stroke="#ff0000" stroke-width="2.3" stroke-linecap="butt"/>
<line x1="994.2" y1="389.63" x2="1003.8" y2="389.63" stroke="#ff0000" stroke-width="2.3" stroke-linecap="butt"/>
<line x1="1079" y1="351.42" x2="1079" y2="370.61" stroke="#ff0000" stroke-width="2.5" stroke-linecap="butt"/>
<line x1="1074.2" y1="351.42" x2="1083.8" y2="351.42" stroke="#ff0000" stroke-width="2.3" stroke-linecap="butt"/>
<line x1="1074.2" y1="370.61" x2="1083.8" y2="370.61" stroke="#ff0000" stroke-width="2.3" stroke-linecap="butt"/>
<line x1="1158.7" y1="311.14" x2="1158.7" y2="331.28" stroke="#ff0000" stroke-width="2.5" stroke-linecap="butt"/>
<line x1="1153.9" y1="311.14" x2="1163.5" y2="311.14" stroke="#ff0000" stroke-width="2.3" stroke-linecap="butt"/>
<line x1="1153.9" y1="331.28" x2="1163.5" y2="331.28" stroke="#ff0000" stroke-width="2.3" stroke-linecap="butt"/>
<line x1="1239" y1="278.04" x2="1239" y2="303.62" stroke="#ff0000" stroke-width="2.5" stroke-linecap="butt"/>
<line x1="1234.2" y1="278.04" x2="1243.8" y2="278.04" stroke="#ff0000" stroke-width="2.3" stroke-linecap="butt"/>
<line x1="1234.2" y1="303.62" x2="1243.8" y2="303.62" stroke="#ff0000" stroke-width="2.3" stroke-linecap="butt"/>
<line x1="1319" y1="243.83" x2="1319" y2="272.29" stroke="#ff0000" stroke-width="2.5" stroke-linecap="butt"/>
<line x1="1314.2" y1="243.83" x2="1323.8" y2="243.83" stroke="#ff0000" stroke-width="2.3" stroke-linecap="butt"/>
<line x1="1314.2" y1="272.29" x2="1323.8" y2="272.29" stroke="#ff0000" stroke-width="2.3" stroke-linecap="butt"/>
<polyline points="999,383.23 1079,361.01 1158.7,321.21 1239,290.83 1319,258.06" fill="none" stroke="#ff0000" stroke-width="2.4" stroke-linejoin="round"/>
<polygon points="999,388.73 1004.2,379.43 993.8,379.43" fill="#ff0000"/>
<polygon points="1079,366.51 1084.2,357.21 1073.8,357.21" fill="#ff0000"/>
<polygon points="1158.7,326.71 1163.9,317.41 1153.5,317.41" fill="#ff0000"/>
<polygon points="1239,296.33 1244.2,287.03 1233.8,287.03" fill="#ff0000"/>
<polygon points="1319,263.56 1324.2,254.26 1313.8,254.26" fill="#ff0000"/>
<line x1="999" y1="373.96" x2="999" y2="386.75" stroke="#000000" stroke-width="2.5" stroke-linecap="butt"/>
<line x1="994.2" y1="373.96" x2="1003.8" y2="373.96" stroke="#000000" stroke-width="2.3" stroke-linecap="butt"/>
<line x1="994.2" y1="386.75" x2="1003.8" y2="386.75" stroke="#000000" stroke-width="2.3" stroke-linecap="butt"/>
<line x1="1079" y1="346.31" x2="1079" y2="364.21" stroke="#000000" stroke-width="2.5" stroke-linecap="butt"/>
<line x1="1074.2" y1="346.31" x2="1083.8" y2="346.31" stroke="#000000" stroke-width="2.3" stroke-linecap="butt"/>
<line x1="1074.2" y1="364.21" x2="1083.8" y2="364.21" stroke="#000000" stroke-width="2.3" stroke-linecap="butt"/>
<line x1="1158.7" y1="296.75" x2="1158.7" y2="322.33" stroke="#000000" stroke-width="2.5" stroke-linecap="butt"/>
<line x1="1153.9" y1="296.75" x2="1163.5" y2="296.75" stroke="#000000" stroke-width="2.3" stroke-linecap="butt"/>
<line x1="1153.9" y1="322.33" x2="1163.5" y2="322.33" stroke="#000000" stroke-width="2.3" stroke-linecap="butt"/>
<line x1="1239" y1="261.1" x2="1239" y2="293.07" stroke="#000000" stroke-width="2.5" stroke-linecap="butt"/>
<line x1="1234.2" y1="261.1" x2="1243.8" y2="261.1" stroke="#000000" stroke-width="2.3" stroke-linecap="butt"/>
<line x1="1234.2" y1="293.07" x2="1243.8" y2="293.07" stroke="#000000" stroke-width="2.3" stroke-linecap="butt"/>
<line x1="1319" y1="229.28" x2="1319" y2="266.05" stroke="#000000" stroke-width="2.5" stroke-linecap="butt"/>
<line x1="1314.2" y1="229.28" x2="1323.8" y2="229.28" stroke="#000000" stroke-width="2.3" stroke-linecap="butt"/>
<line x1="1314.2" y1="266.05" x2="1323.8" y2="266.05" stroke="#000000" stroke-width="2.3" stroke-linecap="butt"/>
<polyline points="999,380.36 1079,355.26 1158.7,309.54 1239,277.08 1319,247.67" fill="none" stroke="#000000" stroke-width="2.4" stroke-linejoin="round"/>
<circle cx="999" cy="380.36" r="5" fill="#000000"/>
<circle cx="1079" cy="355.26" r="5" fill="#000000"/>
<circle cx="1158.7" cy="309.54" r="5" fill="#000000"/>
<circle cx="1239" cy="277.08" r="5" fill="#000000"/>
<circle cx="1319" cy="247.67" r="5" fill="#000000"/>
<line x1="998.8" y1="208" x2="998.8" y2="450.4" stroke="#000" stroke-width="2.6" stroke-linecap="butt"/>
<line x1="997.5" y1="449.1" x2="1359.5" y2="449.1" stroke="#000" stroke-width="2.6" stroke-linecap="butt"/>
<line x1="991.3" y1="449.1" x2="998.8" y2="449.1" stroke="#000" stroke-width="2.6" stroke-linecap="butt"/>
<text x="988.5" y="454.3" font-size="17.2" font-weight="normal" text-anchor="end" transform="translate(988.5 454.3) scale(1 0.95) translate(-988.5 -454.3)" stroke="#000" stroke-width="0.8" letter-spacing="-0.8">0.0</text>
<line x1="991.3" y1="369.17" x2="998.8" y2="369.17" stroke="#000" stroke-width="2.6" stroke-linecap="butt"/>
<text x="988.5" y="374.37" font-size="17.2" font-weight="normal" text-anchor="end" transform="translate(988.5 374.37) scale(1 0.95) translate(-988.5 -374.37)" stroke="#000" stroke-width="0.8" letter-spacing="-0.8">0.5</text>
<line x1="991.3" y1="289.23" x2="998.8" y2="289.23" stroke="#000" stroke-width="2.6" stroke-linecap="butt"/>
<text x="988.5" y="294.43" font-size="17.2" font-weight="normal" text-anchor="end" transform="translate(988.5 294.43) scale(1 0.95) translate(-988.5 -294.43)" stroke="#000" stroke-width="0.8" letter-spacing="-0.8">1.0</text>
<line x1="991.3" y1="209.3" x2="998.8" y2="209.3" stroke="#000" stroke-width="2.6" stroke-linecap="butt"/>
<text x="988.5" y="214.5" font-size="17.2" font-weight="normal" text-anchor="end" transform="translate(988.5 214.5) scale(1 0.95) translate(-988.5 -214.5)" stroke="#000" stroke-width="0.8" letter-spacing="-0.8">1.5</text>
<line x1="999" y1="449.1" x2="999" y2="456.6" stroke="#000" stroke-width="2.6" stroke-linecap="butt"/>
<text x="998.5" y="475.5" font-size="19.5" font-weight="normal" text-anchor="middle" transform="translate(998.5 475.5) scale(1 0.84) translate(-998.5 -475.5)" stroke="#000" stroke-width="0.8" letter-spacing="-1.3">0h</text>
<line x1="1079" y1="449.1" x2="1079" y2="456.6" stroke="#000" stroke-width="2.6" stroke-linecap="butt"/>
<text x="1078.5" y="475.5" font-size="19.5" font-weight="normal" text-anchor="middle" transform="translate(1078.5 475.5) scale(1 0.84) translate(-1078.5 -475.5)" stroke="#000" stroke-width="0.8" letter-spacing="-1.3">24h</text>
<line x1="1158.7" y1="449.1" x2="1158.7" y2="456.6" stroke="#000" stroke-width="2.6" stroke-linecap="butt"/>
<text x="1158.2" y="475.5" font-size="19.5" font-weight="normal" text-anchor="middle" transform="translate(1158.2 475.5) scale(1 0.84) translate(-1158.2 -475.5)" stroke="#000" stroke-width="0.8" letter-spacing="-1.3">48h</text>
<line x1="1239" y1="449.1" x2="1239" y2="456.6" stroke="#000" stroke-width="2.6" stroke-linecap="butt"/>
<text x="1238.5" y="475.5" font-size="19.5" font-weight="normal" text-anchor="middle" transform="translate(1238.5 475.5) scale(1 0.84) translate(-1238.5 -475.5)" stroke="#000" stroke-width="0.8" letter-spacing="-1.3">72h</text>
<line x1="1319" y1="449.1" x2="1319" y2="456.6" stroke="#000" stroke-width="2.6" stroke-linecap="butt"/>
<text x="1318.5" y="475.5" font-size="19.5" font-weight="normal" text-anchor="middle" transform="translate(1318.5 475.5) scale(1 0.84) translate(-1318.5 -475.5)" stroke="#000" stroke-width="0.8" letter-spacing="-1.3">96h</text>
<text x="1187.5" y="148.3" font-size="23" font-weight="bold" text-anchor="middle">SK-MES-1</text>
<text x="949.5" y="328.2" font-size="24.2" font-weight="bold" text-anchor="middle" stroke="#000" stroke-width="0.3" transform="rotate(-90 949.5 328.2)">A<tspan font-size="16.2" dy="4.5">490nm</tspan><tspan dy="-4.5"> Value</tspan></text>
<line x1="1003.5" y1="180.3" x2="1029.5" y2="180.3" stroke="#000000" stroke-width="2.4" stroke-linecap="butt"/>
<circle cx="1016.5" cy="180.3" r="5" fill="#000000"/>
<text x="1043.5" y="185.9" font-size="19.5" font-weight="normal" text-anchor="start">anti-NC</text>
<line x1="1003.7" y1="212.5" x2="1029.7" y2="212.5" stroke="#00ff00" stroke-width="2.4" stroke-linecap="butt"/>
<rect x="1011.8" y="207.3" width="9.8" height="10.4" fill="#00ff00"/>
<text x="1043.7" y="218.8" font-size="19.5" font-weight="normal" text-anchor="start">anti-miR-223-3p</text>
<line x1="1189.7" y1="175.4" x2="1215.7" y2="175.4" stroke="#0000ff" stroke-width="2.4" stroke-linecap="butt"/>
<polygon points="1202.7,169.9 1207.9,179.2 1197.5,179.2" fill="#0000ff"/>
<text x="1229.7" y="181" font-size="19.5" font-weight="normal" text-anchor="start">anti-miR-223-3p+siRNA</text>
<line x1="1189.7" y1="207.8" x2="1215.7" y2="207.8" stroke="#ff0000" stroke-width="2.4" stroke-linecap="butt"/>
<polygon points="1202.7,213.3 1207.9,204 1197.5,204" fill="#ff0000"/>
<text x="1229.7" y="213.6" font-size="19.5" font-weight="normal" text-anchor="start">anti-miR-223-3p+si-RHOB</text>
<line x1="1336.7" y1="229" x2="1336.7" y2="286.3" stroke="#000" stroke-width="2.7" stroke-linecap="butt"/>
<line x1="1330.2" y1="229" x2="1343.2" y2="229" stroke="#000" stroke-width="2.3" stroke-linecap="butt"/>
<line x1="1330.2" y1="286.3" x2="1343.2" y2="286.3" stroke="#000" stroke-width="2.3" stroke-linecap="butt"/>
<text x="1341.4" y="269.4" font-size="26.5" font-weight="normal" text-anchor="middle" stroke="#000" stroke-width="0.5">*</text>
<line x1="1352.8" y1="244.4" x2="1352.8" y2="290.3" stroke="#000" stroke-width="2.7" stroke-linecap="butt"/>
<line x1="1346.3" y1="244.4" x2="1359.3" y2="244.4" stroke="#000" stroke-width="2.3" stroke-linecap="butt"/>
<line x1="1346.3" y1="290.3" x2="1359.3" y2="290.3" stroke="#000" stroke-width="2.3" stroke-linecap="butt"/>
<text x="1360" y="279.8" font-size="26.5" font-weight="normal" text-anchor="middle" stroke="#000" stroke-width="0.5">*</text>
</g>
<g>
<line x1="1531.8" y1="399.06" x2="1531.8" y2="408.66" stroke="#0000ff" stroke-width="2.5" stroke-linecap="butt"/>
<line x1="1527" y1="399.06" x2="1536.6" y2="399.06" stroke="#0000ff" stroke-width="2.3" stroke-linecap="butt"/>
<line x1="1527" y1="408.66" x2="1536.6" y2="408.66" stroke="#0000ff" stroke-width="2.3" stroke-linecap="butt"/>
<line x1="1612" y1="388.25" x2="1612" y2="400.26" stroke="#0000ff" stroke-width="2.5" stroke-linecap="butt"/>
<line x1="1607.2" y1="388.25" x2="1616.8" y2="388.25" stroke="#0000ff" stroke-width="2.3" stroke-linecap="butt"/>
<line x1="1607.2" y1="400.26" x2="1616.8" y2="400.26" stroke="#0000ff" stroke-width="2.3" stroke-linecap="butt"/>
<line x1="1692.5" y1="367.23" x2="1692.5" y2="384.04" stroke="#0000ff" stroke-width="2.5" stroke-linecap="butt"/>
<line x1="1687.7" y1="367.23" x2="1697.3" y2="367.23" stroke="#0000ff" stroke-width="2.3" stroke-linecap="butt"/>
<line x1="1687.7" y1="384.04" x2="1697.3" y2="384.04" stroke="#0000ff" stroke-width="2.3" stroke-linecap="butt"/>
<line x1="1772" y1="346.81" x2="1772" y2="366.03" stroke="#0000ff" stroke-width="2.5" stroke-linecap="butt"/>
<line x1="1767.2" y1="346.81" x2="1776.8" y2="346.81" stroke="#0000ff" stroke-width="2.3" stroke-linecap="butt"/>
<line x1="1767.2" y1="366.03" x2="1776.8" y2="366.03" stroke="#0000ff" stroke-width="2.3" stroke-linecap="butt"/>
<line x1="1852.5" y1="327.6" x2="1852.5" y2="349.22" stroke="#0000ff" stroke-width="2.5" stroke-linecap="butt"/>
<line x1="1847.7" y1="327.6" x2="1857.3" y2="327.6" stroke="#0000ff" stroke-width="2.3" stroke-linecap="butt"/>
<line x1="1847.7" y1="349.22" x2="1857.3" y2="349.22" stroke="#0000ff" stroke-width="2.3" stroke-linecap="butt"/>
<polyline points="1531.8,403.86 1612,394.25 1692.5,375.64 1772,356.42 1852.5,338.41" fill="none" stroke="#0000ff" stroke-width="2.4" stroke-linejoin="round"/>
<polygon points="1531.8,398.36 1537,407.66 1526.6,407.66" fill="#0000ff"/>
<polygon points="1612,388.75 1617.2,398.05 1606.8,398.05" fill="#0000ff"/>
<polygon points="1692.5,370.14 1697.7,379.44 1687.3,379.44" fill="#0000ff"/>
<polygon points="1772,350.92 1777.2,360.22 1766.8,360.22" fill="#0000ff"/>
<polygon points="1852.5,332.91 1857.7,342.21 1847.3,342.21" fill="#0000ff"/>
<line x1="1531.8" y1="396.65" x2="1531.8" y2="406.26" stroke="#00ff00" stroke-width="2.5" stroke-linecap="butt"/>
<line x1="1527" y1="396.65" x2="1536.6" y2="396.65" stroke="#00ff00" stroke-width="2.3" stroke-linecap="butt"/>
<line x1="1527" y1="406.26" x2="1536.6" y2="406.26" stroke="#00ff00" stroke-width="2.3" stroke-linecap="butt"/>
<line x1="1612" y1="386.45" x2="1612" y2="398.46" stroke="#00ff00" stroke-width="2.5" stroke-linecap="butt"/>
<line x1="1607.2" y1="386.45" x2="1616.8" y2="386.45" stroke="#00ff00" stroke-width="2.3" stroke-linecap="butt"/>
<line x1="1607.2" y1="398.46" x2="1616.8" y2="398.46" stroke="#00ff00" stroke-width="2.3" stroke-linecap="butt"/>
<line x1="1692.5" y1="364.23" x2="1692.5" y2="381.04" stroke="#00ff00" stroke-width="2.5" stroke-linecap="butt"/>
<line x1="1687.7" y1="364.23" x2="1697.3" y2="364.23" stroke="#00ff00" stroke-width="2.3" stroke-linecap="butt"/>
<line x1="1687.7" y1="381.04" x2="1697.3" y2="381.04" stroke="#00ff00" stroke-width="2.3" stroke-linecap="butt"/>
<line x1="1772" y1="342.01" x2="1772" y2="361.23" stroke="#00ff00" stroke-width="2.5" stroke-linecap="butt"/>
<line x1="1767.2" y1="342.01" x2="1776.8" y2="342.01" stroke="#00ff00" stroke-width="2.3" stroke-linecap="butt"/>
<line x1="1767.2" y1="361.23" x2="1776.8" y2="361.23" stroke="#00ff00" stroke-width="2.3" stroke-linecap="butt"/>
<line x1="1852.5" y1="322.79" x2="1852.5" y2="345.61" stroke="#00ff00" stroke-width="2.5" stroke-linecap="butt"/>
<line x1="1847.7" y1="322.79" x2="1857.3" y2="322.79" stroke="#00ff00" stroke-width="2.3" stroke-linecap="butt"/>
<line x1="1847.7" y1="345.61" x2="1857.3" y2="345.61" stroke="#00ff00" stroke-width="2.3" stroke-linecap="butt"/>
<polyline points="1531.8,401.46 1612,392.45 1692.5,372.63 1772,351.62 1852.5,334.2" fill="none" stroke="#00ff00" stroke-width="2.4" stroke-linejoin="round"/>
<rect x="1526.9" y="396.26" width="9.8" height="10.4" fill="#00ff00"/>
<rect x="1607.1" y="387.25" width="9.8" height="10.4" fill="#00ff00"/>
<rect x="1687.6" y="367.44" width="9.8" height="10.4" fill="#00ff00"/>
<rect x="1767.1" y="346.42" width="9.8" height="10.4" fill="#00ff00"/>
<rect x="1847.6" y="329" width="9.8" height="10.4" fill="#00ff00"/>
<line x1="1531.8" y1="395.45" x2="1531.8" y2="405.06" stroke="#ff0000" stroke-width="2.5" stroke-linecap="butt"/>
<line x1="1527" y1="395.45" x2="1536.6" y2="395.45" stroke="#ff0000" stroke-width="2.3" stroke-linecap="butt"/>
<line x1="1527" y1="405.06" x2="1536.6" y2="405.06" stroke="#ff0000" stroke-width="2.3" stroke-linecap="butt"/>
<line x1="1612" y1="379.24" x2="1612" y2="391.25" stroke="#ff0000" stroke-width="2.5" stroke-linecap="butt"/>
<line x1="1607.2" y1="379.24" x2="1616.8" y2="379.24" stroke="#ff0000" stroke-width="2.3" stroke-linecap="butt"/>
<line x1="1607.2" y1="391.25" x2="1616.8" y2="391.25" stroke="#ff0000" stroke-width="2.3" stroke-linecap="butt"/>
<line x1="1692.5" y1="344.41" x2="1692.5" y2="361.23" stroke="#ff0000" stroke-width="2.5" stroke-linecap="butt"/>
<line x1="1687.7" y1="344.41" x2="1697.3" y2="344.41" stroke="#ff0000" stroke-width="2.3" stroke-linecap="butt"/>
<line x1="1687.7" y1="361.23" x2="1697.3" y2="361.23" stroke="#ff0000" stroke-width="2.3" stroke-linecap="butt"/>
<line x1="1772" y1="320.99" x2="1772" y2="340.21" stroke="#ff0000" stroke-width="2.5" stroke-linecap="butt"/>
<line x1="1767.2" y1="320.99" x2="1776.8" y2="320.99" stroke="#ff0000" stroke-width="2.3" stroke-linecap="butt"/>
<line x1="1767.2" y1="340.21" x2="1776.8" y2="340.21" stroke="#ff0000" stroke-width="2.3" stroke-linecap="butt"/>
<line x1="1852.5" y1="287.96" x2="1852.5" y2="309.58" stroke="#ff0000" stroke-width="2.5" stroke-linecap="butt"/>
<line x1="1847.7" y1="287.96" x2="1857.3" y2="287.96" stroke="#ff0000" stroke-width="2.3" stroke-linecap="butt"/>
<line x1="1847.7" y1="309.58" x2="1857.3" y2="309.58" stroke="#ff0000" stroke-width="2.3" stroke-linecap="butt"/>
<polyline points="1531.8,400.26 1612,385.25 1692.5,352.82 1772,330.6 1852.5,298.77" fill="none" stroke="#ff0000" stroke-width="2.4" stroke-linejoin="round"/>
<polygon points="1531.8,405.76 1537,396.46 1526.6,396.46" fill="#ff0000"/>
<polygon points="1612,390.75 1617.2,381.45 1606.8,381.45" fill="#ff0000"/>
<polygon points="1692.5,358.32 1697.7,349.02 1687.3,349.02" fill="#ff0000"/>
<polygon points="1772,336.1 1777.2,326.8 1766.8,326.8" fill="#ff0000"/>
<polygon points="1852.5,304.27 1857.7,294.97 1847.3,294.97" fill="#ff0000"/>
<line x1="1531.8" y1="390.89" x2="1531.8" y2="400.5" stroke="#000000" stroke-width="2.5" stroke-linecap="butt"/>
<line x1="1527" y1="390.89" x2="1536.6" y2="390.89" stroke="#000000" stroke-width="2.3" stroke-linecap="butt"/>
<line x1="1527" y1="400.5" x2="1536.6" y2="400.5" stroke="#000000" stroke-width="2.3" stroke-linecap="butt"/>
<line x1="1612" y1="374.44" x2="1612" y2="388.85" stroke="#000000" stroke-width="2.5" stroke-linecap="butt"/>
<line x1="1607.2" y1="374.44" x2="1616.8" y2="374.44" stroke="#000000" stroke-width="2.3" stroke-linecap="butt"/>
<line x1="1607.2" y1="388.85" x2="1616.8" y2="388.85" stroke="#000000" stroke-width="2.3" stroke-linecap="butt"/>
<line x1="1692.5" y1="333.24" x2="1692.5" y2="353.66" stroke="#000000" stroke-width="2.5" stroke-linecap="butt"/>
<line x1="1687.7" y1="333.24" x2="1697.3" y2="333.24" stroke="#000000" stroke-width="2.3" stroke-linecap="butt"/>
<line x1="1687.7" y1="353.66" x2="1697.3" y2="353.66" stroke="#000000" stroke-width="2.3" stroke-linecap="butt"/>
<line x1="1772" y1="307.78" x2="1772" y2="333" stroke="#000000" stroke-width="2.5" stroke-linecap="butt"/>
<line x1="1767.2" y1="307.78" x2="1776.8" y2="307.78" stroke="#000000" stroke-width="2.3" stroke-linecap="butt"/>
<line x1="1767.2" y1="333" x2="1776.8" y2="333" stroke="#000000" stroke-width="2.3" stroke-linecap="butt"/>
<line x1="1852.5" y1="277.16" x2="1852.5" y2="304.78" stroke="#000000" stroke-width="2.5" stroke-linecap="butt"/>
<line x1="1847.7" y1="277.16" x2="1857.3" y2="277.16" stroke="#000000" stroke-width="2.3" stroke-linecap="butt"/>
<line x1="1847.7" y1="304.78" x2="1857.3" y2="304.78" stroke="#000000" stroke-width="2.3" stroke-linecap="butt"/>
<polyline points="1531.8,395.69 1612,381.64 1692.5,343.45 1772,320.39 1852.5,290.97" fill="none" stroke="#000000" stroke-width="2.4" stroke-linejoin="round"/>
<circle cx="1531.8" cy="395.69" r="5" fill="#000000"/>
<circle cx="1612" cy="381.64" r="5" fill="#000000"/>
<circle cx="1692.5" cy="343.45" r="5" fill="#000000"/>
<circle cx="1772" cy="320.39" r="5" fill="#000000"/>
<circle cx="1852.5" cy="290.97" r="5" fill="#000000"/>
<line x1="1532.6" y1="209.2" x2="1532.6" y2="452" stroke="#000" stroke-width="2.6" stroke-linecap="butt"/>
<line x1="1531.3" y1="450.7" x2="1894" y2="450.7" stroke="#000" stroke-width="2.6" stroke-linecap="butt"/>
<line x1="1525.1" y1="450.7" x2="1532.6" y2="450.7" stroke="#000" stroke-width="2.6" stroke-linecap="butt"/>
<text x="1521.6" y="456.9" font-size="18.3" font-weight="normal" text-anchor="end" transform="translate(1521.6 456.9) scale(1 0.95) translate(-1521.6 -456.9)" stroke="#000" stroke-width="1.1" letter-spacing="-0.8">0.0</text>
<line x1="1525.1" y1="390.65" x2="1532.6" y2="390.65" stroke="#000" stroke-width="2.6" stroke-linecap="butt"/>
<text x="1521.6" y="396.85" font-size="18.3" font-weight="normal" text-anchor="end" transform="translate(1521.6 396.85) scale(1 0.95) translate(-1521.6 -396.85)" stroke="#000" stroke-width="1.1" letter-spacing="-0.8">0.5</text>
<line x1="1525.1" y1="330.6" x2="1532.6" y2="330.6" stroke="#000" stroke-width="2.6" stroke-linecap="butt"/>
<text x="1521.6" y="336.8" font-size="18.3" font-weight="normal" text-anchor="end" transform="translate(1521.6 336.8) scale(1 0.95) translate(-1521.6 -336.8)" stroke="#000" stroke-width="1.1" letter-spacing="-0.8">1.0</text>
<line x1="1525.1" y1="270.55" x2="1532.6" y2="270.55" stroke="#000" stroke-width="2.6" stroke-linecap="butt"/>
<text x="1521.6" y="276.75" font-size="18.3" font-weight="normal" text-anchor="end" transform="translate(1521.6 276.75) scale(1 0.95) translate(-1521.6 -276.75)" stroke="#000" stroke-width="1.1" letter-spacing="-0.8">1.5</text>
<line x1="1525.1" y1="210.5" x2="1532.6" y2="210.5" stroke="#000" stroke-width="2.6" stroke-linecap="butt"/>
<text x="1521.6" y="216.7" font-size="18.3" font-weight="normal" text-anchor="end" transform="translate(1521.6 216.7) scale(1 0.95) translate(-1521.6 -216.7)" stroke="#000" stroke-width="1.1" letter-spacing="-0.8">2.0</text>
<line x1="1531.8" y1="450.7" x2="1531.8" y2="458.2" stroke="#000" stroke-width="2.6" stroke-linecap="butt"/>
<text x="1531.8" y="477" font-size="20" font-weight="normal" text-anchor="middle" transform="translate(1531.8 477) scale(1 0.84) translate(-1531.8 -477)" stroke="#000" stroke-width="1.1" letter-spacing="-1.3">0h</text>
<line x1="1612" y1="450.7" x2="1612" y2="458.2" stroke="#000" stroke-width="2.6" stroke-linecap="butt"/>
<text x="1612" y="477" font-size="20" font-weight="normal" text-anchor="middle" transform="translate(1612 477) scale(1 0.84) translate(-1612 -477)" stroke="#000" stroke-width="1.1" letter-spacing="-1.3">24h</text>
<line x1="1692.5" y1="450.7" x2="1692.5" y2="458.2" stroke="#000" stroke-width="2.6" stroke-linecap="butt"/>
<text x="1692.5" y="477" font-size="20" font-weight="normal" text-anchor="middle" transform="translate(1692.5 477) scale(1 0.84) translate(-1692.5 -477)" stroke="#000" stroke-width="1.1" letter-spacing="-1.3">48h</text>
<line x1="1772" y1="450.7" x2="1772" y2="458.2" stroke="#000" stroke-width="2.6" stroke-linecap="butt"/>
<text x="1772" y="477" font-size="20" font-weight="normal" text-anchor="middle" transform="translate(1772 477) scale(1 0.84) translate(-1772 -477)" stroke="#000" stroke-width="1.1" letter-spacing="-1.3">72h</text>
<line x1="1852.5" y1="450.7" x2="1852.5" y2="458.2" stroke="#000" stroke-width="2.6" stroke-linecap="butt"/>
<text x="1852.5" y="477" font-size="20" font-weight="normal" text-anchor="middle" transform="translate(1852.5 477) scale(1 0.84) translate(-1852.5 -477)" stroke="#000" stroke-width="1.1" letter-spacing="-1.3">96h</text>
<text x="1728.7" y="190.5" font-size="23" font-weight="bold" text-anchor="middle">H1299</text>
<text x="1483.3" y="332" font-size="24.2" font-weight="bold" text-anchor="middle" stroke="#000" stroke-width="0.12" transform="rotate(-90 1483.3 332)">A<tspan font-size="16.2" dy="4.5">490nm</tspan><tspan dy="-4.5"> Value</tspan></text>
<line x1="1537" y1="216.2" x2="1563" y2="216.2" stroke="#000000" stroke-width="2.4" stroke-linecap="butt"/>
<circle cx="1550" cy="216.2" r="5" fill="#000000"/>
<text x="1577" y="221.8" font-size="19.5" font-weight="normal" text-anchor="start">anti-NC</text>
<line x1="1535.6" y1="249.2" x2="1561.6" y2="249.2" stroke="#00ff00" stroke-width="2.4" stroke-linecap="butt"/>
<rect x="1543.7" y="244" width="9.8" height="10.4" fill="#00ff00"/>
<text x="1575.6" y="255.1" font-size="19.5" font-weight="normal" text-anchor="start">anti-miR-223-3p</text>
<line x1="1730" y1="215" x2="1756" y2="215" stroke="#0000ff" stroke-width="2.4" stroke-linecap="butt"/>
<polygon points="1743,209.5 1748.2,218.8 1737.8,218.8" fill="#0000ff"/>
<text x="1769" y="221.3" font-size="19.5" font-weight="normal" text-anchor="start">anti-miR-223-3p+siRNA</text>
<line x1="1730" y1="247.9" x2="1756" y2="247.9" stroke="#ff0000" stroke-width="2.4" stroke-linecap="butt"/>
<polygon points="1743,253.4 1748.2,244.1 1737.8,244.1" fill="#ff0000"/>
<text x="1769" y="254" font-size="19.5" font-weight="normal" text-anchor="start">anti-miR-223-3p+si-RHOB</text>
<line x1="1871" y1="276.5" x2="1871" y2="323.3" stroke="#000" stroke-width="2.7" stroke-linecap="butt"/>
<line x1="1864.5" y1="276.5" x2="1877.5" y2="276.5" stroke="#000" stroke-width="2.3" stroke-linecap="butt"/>
<line x1="1864.5" y1="323.3" x2="1877.5" y2="323.3" stroke="#000" stroke-width="2.3" stroke-linecap="butt"/>
<text x="1876" y="311.9" font-size="26.5" font-weight="normal" text-anchor="middle" stroke="#000" stroke-width="0.5">*</text>
<line x1="1887.3" y1="288.5" x2="1887.3" y2="326.5" stroke="#000" stroke-width="2.7" stroke-linecap="butt"/>
<line x1="1880.8" y1="288.5" x2="1893.8" y2="288.5" stroke="#000" stroke-width="2.3" stroke-linecap="butt"/>
<line x1="1880.8" y1="326.5" x2="1893.8" y2="326.5" stroke="#000" stroke-width="2.3" stroke-linecap="butt"/>
<text x="1892.5" y="317.5" font-size="26.5" font-weight="normal" text-anchor="middle" stroke="#000" stroke-width="0.5">*</text>
</g>
</svg></body></html>
